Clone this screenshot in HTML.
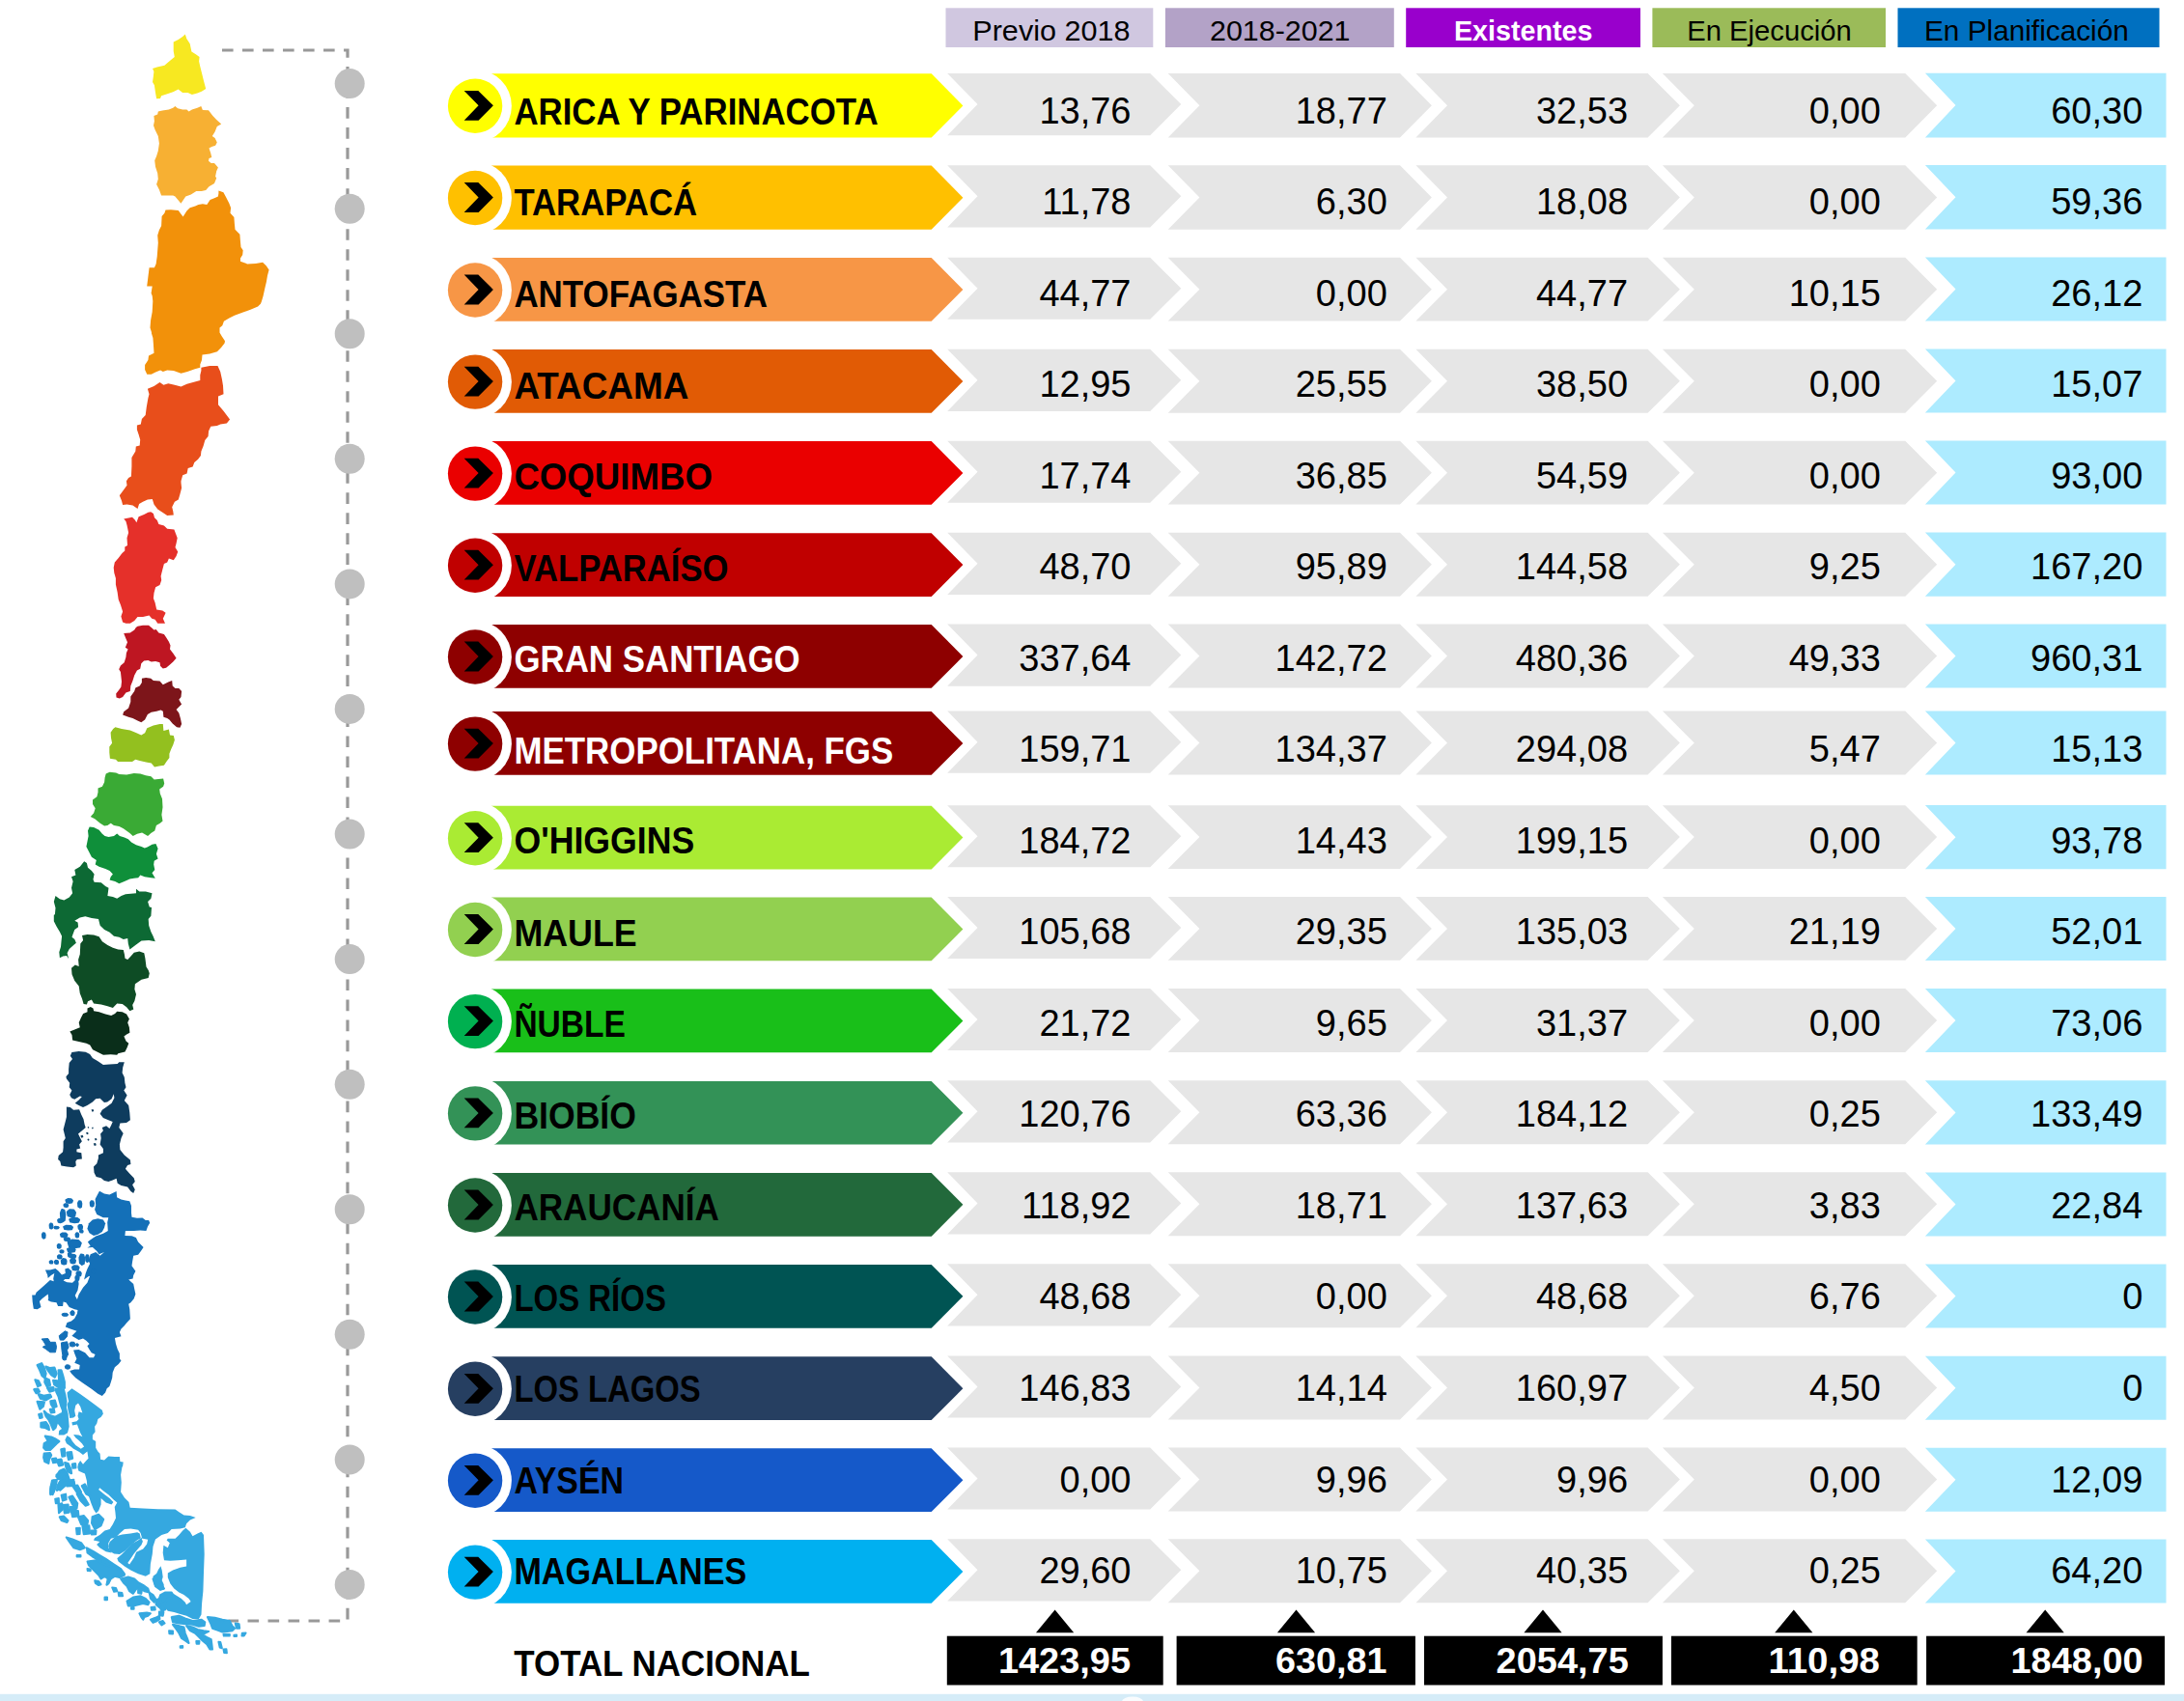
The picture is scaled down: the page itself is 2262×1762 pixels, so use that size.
<!DOCTYPE html>
<html lang="es"><head><meta charset="utf-8"><title>Total Nacional</title>
<style>html,body{margin:0;padding:0;background:#fff;}body{width:2262px;height:1762px;overflow:hidden;}svg{display:block;}text{font-family:"Liberation Sans",sans-serif;}.b{font-weight:bold;}</style></head><body>
<svg width="2262" height="1762" viewBox="0 0 2262 1762">
<rect width="2262" height="1762" fill="#fff"/>
<rect x="0" y="1754.8" width="2262" height="8" fill="#D5ECF8"/>
<ellipse cx="1173" cy="1762.5" rx="11" ry="5" fill="#fff" fill-opacity="0.85"/>
<path d="M230,52 H360 V1679 H236.5" fill="none" stroke="#999" stroke-width="3.2" stroke-dasharray="11.6 9.41"/>
<circle cx="362.2" cy="86.6" r="15.5" fill="#BFBFBF"/>
<circle cx="362.2" cy="216.2" r="15.5" fill="#BFBFBF"/>
<circle cx="362.2" cy="345.7" r="15.5" fill="#BFBFBF"/>
<circle cx="362.2" cy="475.3" r="15.5" fill="#BFBFBF"/>
<circle cx="362.2" cy="604.9" r="15.5" fill="#BFBFBF"/>
<circle cx="362.2" cy="734.4" r="15.5" fill="#BFBFBF"/>
<circle cx="362.2" cy="864.0" r="15.5" fill="#BFBFBF"/>
<circle cx="362.2" cy="993.6" r="15.5" fill="#BFBFBF"/>
<circle cx="362.2" cy="1123.2" r="15.5" fill="#BFBFBF"/>
<circle cx="362.2" cy="1252.7" r="15.5" fill="#BFBFBF"/>
<circle cx="362.2" cy="1382.3" r="15.5" fill="#BFBFBF"/>
<circle cx="362.2" cy="1511.9" r="15.5" fill="#BFBFBF"/>
<circle cx="362.2" cy="1641.4" r="15.5" fill="#BFBFBF"/>
<g id="map">
<polygon fill="#F7E821" points="191.8,35.4 193.4,40.3 196.7,45.3 198.4,53.5 202.8,56.3 206.6,59.0 206.1,63.4 207.2,68.4 209.4,77.2 211.0,83.8 213.2,92.0 208.8,94.8 204.4,96.4 198.9,98.1 194.5,95.9 189.1,95.9 184.7,92.6 179.2,95.3 172.6,97.5 167.1,99.2 166.0,101.9 162.1,102.2 161.0,95.9 159.9,88.2 158.0,84.9 158.8,79.4 159.4,73.9 158.0,71.1 162.7,69.5 170.4,67.8 175.9,62.9 180.8,59.0 179.7,53.0 179.7,43.6 184.7,40.9 189.1,38.1"/>
<polygon fill="#F7B033" points="181.4,109.9 184.1,112.3 189.1,113.4 193.4,113.4 195.6,115.6 198.9,113.4 204.4,111.8 208.3,110.1 209.9,114.0 216.0,114.3 220.4,120.0 224.2,123.9 229.2,128.6 224.8,131.0 222.6,136.5 219.8,140.9 222.6,143.1 224.8,147.5 223.1,150.8 219.3,151.9 216.5,153.6 218.2,158.5 219.3,162.9 216.5,164.0 216.0,166.8 218.7,169.0 222.0,169.0 225.9,173.4 224.2,177.2 223.1,182.7 224.2,184.4 222.0,189.9 216.5,193.2 213.2,197.0 208.8,198.1 203.3,198.1 197.8,201.4 192.3,203.6 187.4,210.8 181.4,203.6 179.2,202.5 167.1,202.5 164.9,196.5 162.1,191.0 163.8,185.5 163.2,179.4 161.0,172.8 160.2,166.2 162.1,161.8 163.8,156.3 164.9,148.6 163.8,140.9 160.5,134.3 159.0,129.9 159.9,125.5 159.4,120.0 163.2,118.4 163.8,115.6 168.2,114.5 174.8,113.4 179.2,111.8"/>
<polygon fill="#F2910A" points="226.4,197.6 231.4,199.2 234.1,204.2 237.4,210.8 239.1,215.2 238.5,220.7 242.4,225.1 242.9,231.7 243.5,237.7 248.4,242.7 249.0,250.4 249.5,255.9 251.7,259.2 251.2,264.1 249.0,267.4 249.0,270.7 256.1,273.4 264.9,272.9 272.1,271.8 275.9,275.6 278.6,279.5 277.0,285.5 275.9,292.1 274.3,298.7 272.6,306.4 271.0,311.9 269.9,314.7 267.1,317.4 259.4,320.7 251.7,323.5 242.9,326.8 237.4,329.5 231.9,332.8 230.3,337.2 227.5,339.4 227.5,344.4 229.7,348.2 233.0,353.2 232.6,355.4 229.3,359.8 224.9,364.2 217.2,366.4 209.5,367.5 209.0,373.0 207.3,377.4 207.3,380.7 201.8,382.3 194.1,385.1 187.5,386.7 179.8,384.0 173.2,383.4 168.8,385.1 166.1,383.4 161.1,385.6 156.7,387.8 152.3,387.8 150.1,382.9 150.1,377.9 153.4,373.0 154.0,368.6 159.5,365.8 158.9,356.5 158.4,349.9 156.7,344.4 157.2,344.9 155.5,339.4 156.1,331.7 157.7,322.9 158.3,311.9 157.7,306.4 156.6,303.7 157.7,296.5 152.2,296.5 153.3,287.7 154.6,277.3 159.9,277.3 161.6,273.4 162.7,265.8 163.8,251.5 163.2,243.8 164.9,238.3 167.1,233.9 167.6,224.0 170.4,220.7 171.5,217.4 177.0,217.2 184.7,217.9 189.6,224.5 193.4,218.5 196.7,215.2 202.2,213.5 205.5,211.9 209.9,211.3 214.3,211.9 217.6,206.9 222.0,205.3 225.9,203.6 226.4,200.3"/>
<polygon fill="#E84E1B" points="208.4,380.7 217.2,379.0 225.5,379.0 228.2,385.1 229.9,392.8 231.0,399.4 231.5,408.2 226.0,410.4 226.0,419.2 231.5,425.8 238.1,434.5 234.8,438.4 228.2,439.5 224.9,441.1 218.3,441.7 216.1,446.6 215.6,452.1 212.3,456.0 210.6,462.0 208.4,467.5 207.9,471.9 205.1,475.8 201.3,479.1 199.6,483.5 194.7,485.1 193.6,490.6 189.2,492.3 187.5,498.3 187.5,500.0 188.1,505.5 186.4,512.1 184.8,517.6 180.9,519.8 178.2,525.3 179.3,529.7 179.8,533.5 173.2,534.1 168.3,530.8 163.3,527.5 159.5,522.5 157.8,517.0 152.9,517.6 148.0,519.8 144.1,522.0 142.5,526.9 137.5,523.6 131.5,522.5 127.1,523.1 126.0,518.7 123.8,513.2 127.1,508.8 131.5,502.7 130.9,498.3 133.1,495.0 135.9,493.4 136.4,482.9 136.4,474.1 140.3,467.5 140.8,462.6 144.7,461.5 145.2,455.4 143.6,449.9 141.9,445.0 141.9,440.6 145.8,439.5 146.9,434.0 150.7,430.1 151.8,421.4 153.4,412.6 154.5,408.2 152.9,402.7 159.5,399.9 165.5,396.1 169.4,398.8 174.3,397.2 180.9,398.8 187.5,400.5 193.6,397.7 201.8,395.5 207.3,393.9 207.3,388.4 208.4,384.0"/>
<polygon fill="#E5302A" points="156.2,530.2 158.9,531.9 160.0,536.3 162.8,539.0 164.4,542.9 169.9,544.5 173.2,547.8 180.4,548.4 182.0,552.8 183.7,557.2 182.6,562.7 181.5,567.1 184.2,571.5 182.6,575.9 179.8,580.3 174.9,578.6 173.2,582.5 169.9,584.1 168.3,590.1 166.6,596.7 167.2,601.1 165.5,606.1 161.1,608.3 159.5,614.3 158.9,619.8 160.6,624.2 162.2,631.4 168.3,632.5 171.6,634.7 169.9,638.5 168.8,640.7 171.0,645.7 163.3,645.7 160.6,641.8 157.3,640.7 154.5,637.4 148.0,639.1 142.5,639.1 139.2,642.9 134.8,645.7 130.4,645.7 127.1,644.6 125.4,638.5 127.1,633.6 124.9,626.4 122.7,620.9 121.6,613.2 119.9,605.5 119.9,598.9 118.3,593.4 117.7,588.0 118.8,582.5 122.7,578.1 126.5,573.1 129.3,570.4 129.3,566.5 132.0,564.9 131.5,557.2 133.1,551.7 131.5,544.0 130.4,540.1 128.2,537.4 137.0,535.7 139.7,538.5 141.4,541.2 143.6,535.2 149.1,533.0 153.4,530.8"/>
<polygon fill="#BE1622" points="142.5,648.8 148.0,647.7 154.0,647.7 157.3,650.4 159.5,652.6 161.7,652.1 164.4,655.4 169.9,657.0 172.1,660.3 174.9,664.7 176.5,668.6 176.0,672.4 179.3,676.8 182.6,681.8 179.3,685.6 175.4,688.9 172.1,691.7 168.8,692.6 166.1,690.0 165.5,686.2 161.1,685.1 156.7,685.6 153.4,684.0 149.1,684.5 146.3,687.3 145.2,692.8 141.9,694.4 139.2,699.4 137.5,704.9 135.3,710.4 134.8,715.9 130.4,717.5 127.1,721.9 123.8,723.6 120.5,722.5 120.2,718.6 123.2,714.8 125.4,711.5 126.0,706.0 125.4,700.5 124.9,696.1 123.2,693.3 124.9,689.5 128.7,686.2 130.4,680.7 130.9,676.3 132.6,672.4 129.8,670.8 132.0,665.3 130.4,661.4 128.2,655.9 134.8,655.4 139.2,652.6 140.8,649.9"/>
<polygon fill="#7D151A" points="146.9,702.7 151.2,702.1 156.2,702.7 158.9,704.9 165.5,705.4 168.8,709.3 174.3,706.5 178.2,704.9 178.7,710.4 181.5,713.1 185.3,713.1 188.1,715.9 187.5,721.9 185.3,724.7 188.1,729.6 185.3,732.3 182.6,735.1 185.3,738.4 187.0,744.4 188.1,749.9 186.4,753.8 183.1,753.2 178.7,749.4 175.4,745.5 173.2,743.9 169.4,742.8 168.8,736.7 166.6,735.6 162.2,736.7 156.7,737.8 152.9,740.0 150.1,745.5 146.3,748.3 142.5,746.6 137.5,743.9 133.1,742.8 127.1,740.6 128.2,737.3 133.1,733.4 135.3,726.9 135.3,721.4 139.2,715.9 140.3,712.6 144.7,710.4 146.9,707.1"/>
<polygon fill="#93C01F" points="119.4,753.2 126.0,754.9 134.8,756.5 141.4,759.3 146.3,761.5 150.1,759.3 152.3,754.3 158.9,751.6 165.5,749.9 168.8,749.9 169.4,757.1 174.9,755.4 176.0,761.5 179.8,762.0 180.9,766.4 179.3,771.4 177.1,776.3 175.4,780.7 175.4,785.1 172.7,788.4 169.9,792.8 165.0,793.4 160.0,794.5 156.7,790.6 151.2,789.5 144.7,787.9 140.3,786.8 137.0,789.0 130.4,789.0 122.1,789.0 119.9,786.8 113.9,785.7 113.3,779.6 113.3,773.6 116.1,769.7 115.0,764.2 114.6,758.7 117.2,754.9"/>
<polygon fill="#3AAA35" points="109.7,801.5 113.6,799.7 120.1,800.4 123.4,802.1 131.1,802.6 138.8,801.0 145.4,801.5 150.9,803.2 156.4,804.3 159.7,807.6 164.1,807.0 169.1,806.5 170.2,811.4 169.1,814.7 165.2,817.5 165.8,821.9 168.0,827.4 168.5,836.2 167.4,843.9 168.5,850.5 165.8,852.7 161.9,854.9 160.3,860.4 156.4,863.1 153.1,865.9 147.1,862.6 142.1,863.7 137.7,865.9 134.4,863.1 127.8,858.2 123.4,856.0 118.0,854.9 114.7,852.7 111.4,854.9 108.1,855.4 103.7,852.7 98.2,848.3 93.8,846.1 97.1,842.2 98.7,837.3 96.0,832.9 96.0,828.5 100.4,825.2 101.5,820.8 101.5,816.4 105.9,814.7 108.1,810.3 108.6,805.4"/>
<polygon fill="#0F8F3A" points="92.7,856.5 97.1,857.1 102.6,859.8 105.9,863.7 108.6,865.9 112.5,867.0 118.0,865.9 121.2,863.4 124.0,865.9 128.9,867.5 132.8,869.2 136.1,872.5 141.0,875.2 146.5,876.9 149.8,878.5 152.6,877.4 157.5,874.7 161.4,874.1 163.6,879.1 161.9,884.5 163.6,889.5 159.7,891.7 159.2,895.5 160.3,901.0 157.5,904.3 160.8,909.8 156.4,909.3 149.8,908.2 145.4,906.5 143.2,909.3 138.8,909.8 134.4,910.4 128.9,913.1 123.4,915.3 119.1,913.1 113.6,911.5 114.7,908.2 116.9,905.4 113.6,902.1 109.2,899.9 102.6,897.7 98.7,895.5 99.8,891.1 94.9,887.8 92.1,882.3 89.4,876.9 90.5,871.4 91.6,865.9 91.0,860.4"/>
<polygon fill="#0D6934" points="87.2,892.2 89.9,893.9 91.0,898.8 94.9,902.1 97.6,905.4 96.5,910.9 97.6,913.7 104.8,914.2 109.2,918.1 112.5,919.7 111.4,928.0 116.9,929.1 121.2,930.7 125.6,928.0 130.0,926.3 135.5,925.8 141.0,925.2 141.0,920.8 144.3,923.6 150.9,923.6 157.5,925.2 156.4,930.7 153.1,934.0 154.8,939.5 157.0,940.0 156.4,948.8 153.7,952.1 154.2,958.7 156.4,965.3 158.6,969.7 160.8,975.2 154.2,974.1 146.5,974.6 141.0,978.5 134.4,983.4 132.8,977.4 132.2,971.9 127.8,973.0 123.4,970.8 118.0,969.7 113.6,965.8 108.1,963.1 103.7,958.7 102.0,952.1 94.9,951.0 88.3,949.3 82.8,950.4 77.3,953.7 80.6,955.4 81.1,960.3 77.3,963.1 75.6,967.5 74.5,970.8 77.3,973.0 78.9,976.8 76.2,979.0 71.8,982.9 69.6,987.3 71.2,993.3 69.0,990.0 65.2,990.6 61.9,992.2 61.3,986.2 63.0,980.7 63.5,975.2 64.1,969.7 61.9,965.3 58.6,959.8 55.8,954.3 55.8,947.7 56.9,947.2 57.5,940.6 55.8,934.0 57.5,928.0 61.9,931.3 66.3,932.4 71.8,929.6 75.1,925.2 74.0,919.7 75.6,913.1 74.0,908.2 78.4,906.5 77.3,901.0 82.8,897.7"/>
<polygon fill="#0E4C25" points="85.0,969.1 90.5,968.0 97.1,968.4 102.6,970.2 105.9,975.2 111.4,979.0 116.9,981.8 122.3,983.4 127.8,984.0 128.9,988.4 129.5,992.8 132.2,993.9 135.5,990.6 138.8,986.7 144.3,985.6 149.3,987.3 150.4,992.8 151.5,1001.6 153.7,1004.9 154.8,1008.2 153.7,1013.1 146.5,1014.8 143.2,1017.0 139.9,1019.2 139.4,1024.7 141.0,1030.1 139.4,1036.7 137.2,1041.1 138.3,1045.5 134.4,1047.2 131.1,1043.3 126.7,1040.0 121.2,1039.5 116.9,1043.9 111.4,1042.2 104.8,1040.6 97.1,1039.5 94.9,1035.6 91.0,1037.3 89.9,1040.6 86.6,1040.0 85.0,1034.5 82.8,1029.1 81.7,1021.4 77.3,1015.9 74.5,1009.3 74.0,1002.7 77.8,999.4 81.7,1001.0 81.1,993.9 82.8,988.4 83.3,977.4 86.1,974.1"/>
<polygon fill="#0A2E1A" points="90.5,1044.4 93.8,1043.1 96.5,1044.4 97.1,1047.2 102.6,1048.3 109.2,1050.5 115.2,1052.1 119.1,1049.9 121.2,1047.7 126.7,1048.3 131.1,1050.5 133.9,1055.4 132.2,1059.3 133.9,1064.2 134.4,1069.7 131.1,1071.4 128.4,1073.6 130.6,1078.5 133.3,1080.7 131.7,1085.1 129.5,1089.5 122.3,1091.2 121.2,1092.8 114.7,1092.3 107.0,1092.8 101.5,1090.1 96.0,1087.3 93.2,1082.4 89.4,1080.7 81.7,1079.1 75.1,1077.4 74.5,1071.9 72.3,1068.6 77.3,1066.4 82.8,1064.2 81.7,1059.3 83.9,1054.3 86.1,1049.9 90.5,1048.3"/>
<polygon fill="#0E3C5E" points="74.4,1089.9 81.6,1089.0 88.7,1089.7 93.1,1092.1 95.9,1095.9 101.4,1099.2 106.9,1103.1 113.4,1102.5 121.7,1102.0 123.3,1100.3 128.8,1100.3 127.2,1105.8 126.6,1111.3 128.8,1115.7 129.4,1121.8 130.5,1126.2 128.3,1129.5 131.6,1134.4 128.8,1139.9 133.2,1144.9 134.3,1152.6 134.9,1160.3 131.0,1163.0 124.4,1163.6 123.3,1168.0 127.7,1174.0 125.5,1178.9 123.9,1185.5 124.4,1191.0 128.8,1196.5 134.9,1201.5 135.4,1205.9 132.1,1207.0 129.9,1210.8 134.3,1215.8 138.7,1220.2 139.8,1224.0 137.1,1227.3 139.8,1232.3 138.2,1236.1 135.4,1233.9 132.1,1229.5 125.5,1227.9 121.7,1225.7 120.6,1220.7 116.7,1222.4 112.3,1224.0 108.0,1222.9 104.7,1220.2 99.7,1219.1 97.5,1214.7 97.0,1208.6 100.3,1205.3 101.9,1199.8 101.9,1196.5 106.9,1194.3 106.9,1189.9 103.6,1185.5 104.7,1178.9 104.1,1174.5 106.9,1171.2 105.8,1168.0 110.1,1166.3 113.4,1169.1 115.1,1165.8 116.7,1161.9 112.3,1160.3 106.9,1158.1 103.6,1153.7 105.8,1149.8 111.2,1146.0 115.6,1142.7 118.4,1137.2 117.8,1133.3 115.6,1138.3 111.2,1141.6 108.0,1142.1 103.6,1137.7 99.2,1138.3 95.9,1141.6 90.4,1144.9 86.0,1147.1 81.6,1144.9 77.7,1142.7 81.6,1139.4 84.9,1136.1 82.7,1135.5 77.2,1138.8 73.9,1137.2 72.2,1133.9 74.4,1129.5 71.7,1126.2 72.2,1121.8 68.9,1117.4 68.4,1115.2 71.1,1111.9 71.1,1107.5 71.7,1100.9 75.0,1097.0 72.8,1093.7"/>
<polygon fill="#0E3C5E" points="68.9,1146.5 72.8,1147.1 76.1,1149.8 82.1,1149.3 84.3,1154.8 86.5,1159.2 87.6,1164.7 88.7,1168.0 84.9,1171.2 81.0,1174.5 83.2,1178.9 84.9,1182.2 82.1,1185.5 83.2,1189.4 79.4,1190.5 79.4,1193.2 84.3,1194.3 84.9,1200.4 79.9,1200.9 78.3,1203.1 78.8,1207.5 76.1,1209.2 69.5,1208.6 63.4,1207.5 62.3,1203.1 60.1,1200.9 60.7,1197.1 65.1,1193.2 65.6,1188.8 65.6,1182.2 67.8,1178.9 66.7,1174.5 65.6,1170.1 66.7,1165.8 67.8,1161.4 68.9,1157.0 68.9,1151.5"/>
<polygon fill="#0E3C5E" points="94.5,1149.6 96.5,1149.0 97.2,1150.9 95.5,1151.7"/>
<polygon fill="#0E3C5E" points="89.0,1173.2 91.0,1172.7 91.7,1174.5 90.0,1175.3"/>
<polygon fill="#0E3C5E" points="83.3,1176.4 85.6,1175.8 86.4,1177.9 84.4,1178.8"/>
<polygon fill="#0E3C5E" points="90.4,1179.9 92.0,1179.5 92.6,1181.0 91.1,1181.7"/>
<polygon fill="#0E3C5E" points="97.8,1179.5 99.8,1178.9 100.5,1180.8 98.8,1181.6"/>
<polygon fill="#0E3C5E" points="96.7,1184.6 99.0,1184.0 99.8,1186.2 97.8,1187.1"/>
<polygon fill="#0E3C5E" points="90.6,1167.4 91.9,1167.1 92.3,1168.3 91.2,1168.8"/>
<polygon fill="#0E3C5E" points="95.0,1168.0 96.3,1167.6 96.7,1168.9 95.6,1169.4"/>
<polygon fill="#1470B8" points="103.0,1233.7 108.0,1236.5 113.4,1237.6 120.6,1234.1 121.1,1240.3 125.5,1242.5 129.9,1243.6 134.3,1244.2 136.0,1249.1 136.0,1256.3 136.5,1260.7 142.0,1261.8 147.5,1261.6 150.8,1264.0 154.1,1264.0 155.2,1266.7 153.0,1270.6 151.4,1275.0 145.3,1274.4 138.7,1275.0 129.9,1275.0 129.4,1279.9 136.5,1280.2 140.9,1282.1 143.1,1286.5 148.6,1292.0 145.9,1295.9 143.1,1299.7 138.2,1300.8 137.1,1306.9 136.5,1311.2 140.4,1316.7 138.2,1321.1 137.6,1324.4 133.2,1325.5 138.2,1329.9 139.3,1335.4 140.4,1340.4 138.7,1345.3 135.4,1349.2 133.2,1350.8 134.3,1356.3 134.9,1366.2 131.0,1370.6 128.8,1373.3 125.5,1376.6 123.9,1379.9 125.5,1384.3 118.9,1385.9 120.0,1392.0 121.7,1397.5 123.9,1401.9 123.9,1407.4 125.5,1409.6 122.8,1412.9 118.9,1416.2 116.7,1421.7 116.2,1427.2 114.5,1432.7 113.4,1436.0 110.7,1438.2 109.1,1442.6 105.8,1445.9 101.4,1443.7 94.8,1438.7 86.0,1432.7 78.3,1427.2 73.9,1422.8 72.2,1420.0 77.2,1418.4 82.1,1418.4 82.7,1414.0 77.2,1411.8 79.4,1407.4 77.2,1401.9 76.1,1398.6 81.6,1398.0 88.2,1401.3 92.6,1406.3 97.0,1406.3 98.6,1403.0 94.8,1401.3 92.6,1398.0 90.4,1394.2 92.6,1392.0 89.3,1388.7 86.0,1386.5 81.6,1388.1 74.4,1383.7 79.4,1378.8 72.8,1376.6 67.8,1374.4 69.5,1370.1 73.9,1368.4 77.2,1365.7 79.9,1360.7 80.5,1356.9 77.2,1356.3 71.7,1354.1 68.4,1349.2 65.6,1348.6 65.1,1353.0 60.1,1353.0 58.5,1349.2 53.0,1348.6 49.7,1347.0 50.2,1344.8 49.7,1340.4 43.6,1345.3 40.9,1348.1 42.5,1354.1 38.7,1356.3 34.8,1355.8 33.7,1348.6 33.2,1341.5 36.5,1341.5 37.6,1338.7 45.3,1332.1 51.9,1326.1 55.7,1327.2 55.2,1324.4 56.3,1318.9 53.0,1321.1 49.7,1323.9 49.1,1320.6 46.9,1315.6 51.9,1315.6 57.4,1314.0 60.7,1316.7 64.0,1320.6 67.8,1318.9 67.3,1314.5 70.6,1313.4 74.4,1316.7 73.9,1321.1 71.7,1325.0 67.3,1325.0 65.6,1326.6 69.5,1328.3 75.0,1328.8 79.4,1324.4 81.0,1325.5 81.6,1329.9 80.5,1336.5 77.7,1342.0 79.9,1345.9 81.6,1340.9 86.0,1333.8 90.4,1328.8 93.1,1321.7 91.5,1322.2 87.1,1325.5 88.7,1318.9 90.4,1314.5 93.1,1309.1 91.5,1305.8 93.7,1299.2 99.2,1297.0 103.6,1300.8 108.0,1297.0 102.5,1299.2 100.3,1295.9 95.9,1292.0 90.4,1292.6 93.7,1290.4 90.9,1286.5 92.6,1284.9 99.2,1280.5 106.9,1277.7 111.8,1275.0 111.2,1266.2 112.3,1261.2 106.9,1261.2 100.3,1257.9 98.1,1253.0 99.2,1248.6 98.6,1242.0"/>
<polygon fill="#1470B8" points="95.9,1263.4 101.4,1262.3 106.9,1263.4 109.1,1267.3 108.0,1271.7 105.8,1276.1 101.4,1278.8 97.0,1279.9 92.6,1277.2 90.4,1272.8 92.0,1267.3"/>
<polygon fill="#1470B8" stroke="#1470B8" stroke-width="2.0" stroke-linejoin="round" points="68.4,1243.2 70.4,1242.0 73.6,1242.2 75.0,1243.6 74.3,1245.5 71.7,1245.9 69.0,1245.3"/>
<polygon fill="#1470B8" stroke="#1470B8" stroke-width="2.0" stroke-linejoin="round" points="81.0,1246.2 82.0,1244.2 83.7,1244.5 84.3,1246.8 84.0,1250.1 82.7,1250.8 81.3,1249.8"/>
<polygon fill="#1470B8" stroke="#1470B8" stroke-width="2.0" stroke-linejoin="round" points="93.7,1245.8 94.6,1244.2 96.3,1244.5 97.0,1246.4 96.6,1249.1 95.3,1249.7 94.0,1248.9"/>
<polygon fill="#1470B8" stroke="#1470B8" stroke-width="2.0" stroke-linejoin="round" points="66.4,1248.0 67.6,1247.2 69.5,1247.3 70.3,1248.3 69.9,1249.7 68.4,1250.0 66.8,1249.5"/>
<polygon fill="#1470B8" stroke="#1470B8" stroke-width="2.0" stroke-linejoin="round" points="69.7,1255.4 72.2,1253.3 76.3,1253.6 78.0,1256.1 77.2,1259.7 73.9,1260.4 70.6,1259.3"/>
<polygon fill="#1470B8" stroke="#1470B8" stroke-width="2.0" stroke-linejoin="round" points="62.9,1256.6 64.2,1253.0 66.4,1253.6 67.3,1257.8 66.8,1263.9 65.1,1265.1 63.3,1263.3"/>
<polygon fill="#1470B8" stroke="#1470B8" stroke-width="2.0" stroke-linejoin="round" points="72.2,1263.1 75.2,1261.8 80.1,1262.0 82.1,1263.5 81.1,1265.7 77.2,1266.2 73.2,1265.5"/>
<polygon fill="#1470B8" stroke="#1470B8" stroke-width="2.0" stroke-linejoin="round" points="60.1,1263.9 61.4,1262.9 63.6,1263.0 64.5,1264.2 64.1,1265.8 62.3,1266.2 60.6,1265.7"/>
<polygon fill="#1470B8" stroke="#1470B8" stroke-width="2.0" stroke-linejoin="round" points="51.6,1269.0 52.4,1267.5 53.8,1267.8 54.4,1269.5 54.1,1272.0 53.0,1272.5 51.9,1271.8"/>
<polygon fill="#1470B8" stroke="#1470B8" stroke-width="2.0" stroke-linejoin="round" points="56.3,1271.3 57.6,1270.8 59.8,1270.9 60.7,1271.5 60.2,1272.3 58.5,1272.5 56.7,1272.2"/>
<polygon fill="#1470B8" stroke="#1470B8" stroke-width="2.0" stroke-linejoin="round" points="66.2,1270.9 68.8,1269.7 73.2,1269.9 75.0,1271.3 74.1,1273.2 70.6,1273.6 67.1,1273.0"/>
<polygon fill="#1470B8" stroke="#1470B8" stroke-width="2.0" stroke-linejoin="round" points="81.3,1270.2 82.4,1268.9 84.4,1269.1 85.1,1270.7 84.8,1272.9 83.2,1273.3 81.7,1272.7"/>
<polygon fill="#1470B8" stroke="#1470B8" stroke-width="2.0" stroke-linejoin="round" points="43.9,1278.8 44.7,1277.2 46.1,1277.4 46.7,1279.4 46.4,1282.1 45.3,1282.7 44.2,1281.8"/>
<polygon fill="#1470B8" stroke="#1470B8" stroke-width="2.0" stroke-linejoin="round" points="62.9,1278.6 64.9,1277.4 68.2,1277.6 69.5,1279.0 68.8,1280.9 66.2,1281.3 63.5,1280.7"/>
<polygon fill="#1470B8" stroke="#1470B8" stroke-width="2.0" stroke-linejoin="round" points="78.5,1278.5 79.4,1277.2 80.7,1277.4 81.3,1278.9 81.0,1281.1 79.9,1281.6 78.8,1280.9"/>
<polygon fill="#1470B8" stroke="#1470B8" stroke-width="2.0" stroke-linejoin="round" points="82.9,1275.1 83.8,1274.4 85.1,1274.5 85.7,1275.3 85.4,1276.4 84.3,1276.6 83.2,1276.3"/>
<polygon fill="#1470B8" stroke="#1470B8" stroke-width="2.0" stroke-linejoin="round" points="66.7,1283.2 68.4,1282.4 71.1,1282.5 72.2,1283.5 71.7,1284.9 69.5,1285.1 67.3,1284.7"/>
<polygon fill="#1470B8" stroke="#1470B8" stroke-width="2.0" stroke-linejoin="round" points="70.6,1286.8 74.5,1284.5 81.1,1284.9 83.8,1287.6 82.4,1291.5 77.2,1292.2 71.9,1291.1"/>
<polygon fill="#1470B8" stroke="#1470B8" stroke-width="2.0" stroke-linejoin="round" points="59.7,1290.1 60.6,1289.0 62.2,1289.2 62.8,1290.5 62.5,1292.4 61.2,1292.8 60.0,1292.3"/>
<polygon fill="#1470B8" stroke="#1470B8" stroke-width="2.0" stroke-linejoin="round" points="70.0,1294.0 72.3,1292.8 76.2,1293.0 77.7,1294.4 76.9,1296.3 73.9,1296.7 70.8,1296.1"/>
<polygon fill="#1470B8" stroke="#1470B8" stroke-width="2.0" stroke-linejoin="round" points="62.3,1296.0 63.3,1295.3 65.0,1295.4 65.6,1296.2 65.3,1297.3 64.0,1297.5 62.7,1297.2"/>
<polygon fill="#1470B8" stroke="#1470B8" stroke-width="2.0" stroke-linejoin="round" points="82.4,1302.6 83.9,1299.4 86.3,1300.0 87.3,1303.6 86.8,1308.8 84.9,1309.9 82.9,1308.3"/>
<polygon fill="#1470B8" stroke="#1470B8" stroke-width="2.0" stroke-linejoin="round" points="59.9,1301.2 61.0,1300.3 62.9,1300.4 63.7,1301.6 63.3,1303.2 61.8,1303.6 60.2,1303.1"/>
<polygon fill="#1470B8" stroke="#1470B8" stroke-width="2.0" stroke-linejoin="round" points="63.7,1305.8 65.2,1304.1 67.7,1304.4 68.6,1306.3 68.2,1309.1 66.2,1309.6 64.2,1308.8"/>
<polygon fill="#1470B8" stroke="#1470B8" stroke-width="2.0" stroke-linejoin="round" points="72.8,1300.7 74.4,1299.7 77.2,1299.9 78.3,1301.0 77.7,1302.7 75.5,1303.0 73.3,1302.5"/>
<polygon fill="#1470B8" stroke="#1470B8" stroke-width="2.0" stroke-linejoin="round" points="73.0,1305.4 74.5,1304.1 77.0,1304.3 78.0,1305.9 77.5,1308.1 75.5,1308.5 73.5,1307.8"/>
<polygon fill="#1470B8" stroke="#1470B8" stroke-width="2.0" stroke-linejoin="round" points="56.8,1306.7 57.8,1305.8 59.5,1305.9 60.1,1307.1 59.8,1308.7 58.5,1309.1 57.2,1308.6"/>
<polygon fill="#1470B8" stroke="#1470B8" stroke-width="2.0" stroke-linejoin="round" points="51.6,1306.9 52.4,1306.2 53.8,1306.3 54.4,1307.2 54.1,1308.4 53.0,1308.6 51.9,1308.2"/>
<polygon fill="#1470B8" stroke="#1470B8" stroke-width="2.0" stroke-linejoin="round" points="75.0,1312.6 76.9,1311.2 80.2,1311.5 81.6,1313.0 80.9,1315.2 78.3,1315.6 75.6,1315.0"/>
<polygon fill="#1470B8" stroke="#1470B8" stroke-width="2.0" stroke-linejoin="round" points="79.4,1318.6 80.7,1317.3 82.9,1317.5 83.8,1319.1 83.3,1321.3 81.6,1321.7 79.8,1321.0"/>
<polygon fill="#1470B8" stroke="#1470B8" stroke-width="2.0" stroke-linejoin="round" points="70.8,1298.8 71.7,1297.5 73.0,1297.7 73.6,1299.3 73.3,1301.5 72.2,1301.9 71.1,1301.2"/>
<polygon fill="#1470B8" stroke="#1470B8" stroke-width="2.0" stroke-linejoin="round" points="78.3,1323.0 79.3,1321.7 80.9,1321.9 81.6,1323.5 81.2,1325.7 79.9,1326.1 78.6,1325.4"/>
<polygon fill="#1470B8" stroke="#1470B8" stroke-width="2.0" stroke-linejoin="round" points="95.3,1316.1 96.3,1315.1 97.9,1315.3 98.6,1316.4 98.3,1318.1 97.0,1318.4 95.6,1317.9"/>
<polygon fill="#1470B8" stroke="#1470B8" stroke-width="2.0" stroke-linejoin="round" points="89.0,1302.2 89.8,1300.3 91.2,1300.6 91.7,1302.9 91.5,1306.2 90.4,1306.9 89.3,1305.9"/>
<polygon fill="#1470B8" stroke="#1470B8" stroke-width="1.0" stroke-linejoin="round" points="43.1,1387.0 49.7,1386.5 51.9,1390.3 57.4,1390.3 58.5,1395.3 57.4,1400.8 51.9,1400.8 47.5,1397.5 44.2,1395.3 47.5,1393.6 45.3,1389.8"/>
<polygon fill="#1470B8" stroke="#1470B8" stroke-width="1.0" stroke-linejoin="round" points="61.2,1383.7 67.3,1378.8 70.0,1379.9 69.5,1384.3 66.2,1388.1 62.3,1388.1"/>
<polygon fill="#1470B8" stroke="#1470B8" stroke-width="1.0" stroke-linejoin="round" points="63.4,1390.9 69.5,1389.8 71.1,1395.3 69.5,1398.6 70.6,1403.0 68.4,1406.8 65.1,1405.2 64.0,1398.6"/>
<polygon fill="#1470B8" stroke="#1470B8" stroke-width="1.0" stroke-linejoin="round" points="67.3,1415.1 68.9,1413.8 71.7,1414.0 72.8,1415.5 72.2,1417.7 70.0,1418.2 67.8,1417.5"/>
<polygon fill="#1470B8" stroke="#1470B8" stroke-width="1.0" stroke-linejoin="round" points="71.9,1391.5 73.8,1390.1 76.8,1390.3 78.0,1392.0 77.4,1394.5 75.0,1395.0 72.6,1394.3"/>
<polygon fill="#1470B8" stroke="#1470B8" stroke-width="1.0" stroke-linejoin="round" points="64.5,1405.2 65.8,1403.5 68.0,1403.8 68.9,1405.7 68.5,1408.5 66.7,1409.0 65.0,1408.2"/>
<polygon fill="#1470B8" stroke="#1470B8" stroke-width="1.0" stroke-linejoin="round" points="78.5,1392.5 79.4,1391.7 80.7,1391.9 81.3,1392.8 81.0,1394.2 79.9,1394.5 78.8,1394.0"/>
<polygon fill="#1470B8" stroke="#1470B8" stroke-width="1.0" stroke-linejoin="round" points="64.0,1361.2 66.0,1360.3 69.3,1360.4 70.6,1361.5 69.9,1363.1 67.3,1363.4 64.6,1362.9"/>
<polygon fill="#1470B8" stroke="#1470B8" stroke-width="1.0" stroke-linejoin="round" points="72.8,1359.2 74.1,1357.7 76.3,1357.9 77.2,1359.7 76.7,1362.2 75.0,1362.6 73.2,1361.9"/>
<polygon fill="#35A8E0" points="74.4,1438.2 81.6,1443.1 90.4,1449.2 99.2,1455.8 105.8,1460.7 106.9,1464.5 104.7,1467.8 101.4,1470.0 100.3,1474.4 98.1,1477.7 98.6,1483.2 95.9,1486.5 95.9,1490.9 99.2,1493.1 99.2,1499.7 101.4,1503.6 103.6,1505.8 104.1,1511.8 108.0,1512.4 112.3,1508.5 118.9,1509.1 123.9,1509.1 124.4,1514.0 127.7,1514.6 127.2,1518.4 126.4,1520.0 125.1,1527.7 125.8,1535.4 125.1,1545.6 129.0,1551.4 133.5,1555.9 134.7,1561.7 148.2,1562.6 163.6,1563.3 181.5,1563.6 185.4,1566.2 190.5,1569.4 196.9,1570.0 202.7,1571.9 196.9,1574.5 193.1,1578.3 191.8,1582.2 186.7,1583.5 177.7,1584.1 173.8,1587.9 167.4,1589.9 161.0,1594.4 158.5,1602.1 157.8,1609.7 155.9,1620.0 155.3,1630.3 150.8,1632.8 143.1,1630.3 135.4,1626.4 129.0,1622.6 122.6,1617.4 121.3,1614.2 126.4,1609.7 131.5,1604.6 136.0,1599.5 143.1,1595.6 146.9,1592.4 145.6,1587.9 143.1,1584.7 135.4,1583.5 129.0,1584.1 123.8,1588.6 120.0,1592.4 114.9,1593.7 112.3,1598.2 112.3,1603.3 115.5,1608.5 109.7,1607.2 103.3,1603.3 100.1,1600.1 103.3,1596.9 96.9,1595.6 98.2,1593.1 103.3,1589.9 108.5,1585.4 113.6,1584.1 116.8,1579.0 120.0,1572.6 119.4,1566.2 118.7,1561.0 121.3,1556.5 117.4,1553.3 112.3,1548.2 107.2,1544.4 103.3,1541.2 102.1,1543.1 108.5,1548.2 113.6,1552.1 117.4,1555.9 115.5,1558.5 109.7,1556.5 104.6,1552.1 104.6,1558.5 102.1,1564.9 99.5,1567.4 96.9,1563.6 94.4,1557.2 91.8,1549.5 90.5,1543.1 89.9,1534.1 87.9,1526.4 81.5,1523.8 80.3,1520.0 81.0,1516.2 83.2,1512.9 86.0,1516.8 89.3,1512.9 91.5,1510.7 90.4,1503.6 86.0,1506.9 82.1,1504.1 79.4,1502.5 76.1,1500.8 72.8,1498.1 68.9,1495.3 67.3,1491.5 69.5,1487.1 72.8,1489.3 75.0,1493.1 78.3,1497.0 81.6,1499.2 83.8,1500.8 87.1,1498.6 84.9,1495.3 81.6,1492.0 78.3,1489.3 76.1,1486.0 81.6,1486.5 85.4,1488.2 83.2,1484.3 81.6,1479.9 79.9,1475.5 75.0,1476.6 74.4,1473.3 79.4,1472.2 81.6,1470.0 80.5,1466.7 81.6,1462.3 85.4,1463.4 83.2,1456.9 81.0,1453.6 78.3,1455.8 77.2,1461.2 78.3,1466.7 76.1,1468.4 72.2,1468.9 71.7,1465.6 70.6,1461.2 69.5,1454.7 71.1,1451.4 70.0,1447.0 69.5,1442.6"/>
<polygon fill="#35A8E0" points="192.4,1582.8 196.9,1586.7 199.5,1591.2 204.6,1588.6 208.5,1586.7 211.0,1589.9 211.7,1609.7 211.0,1629.0 210.4,1648.2 209.1,1661.0 208.5,1672.6 205.9,1677.1 199.5,1677.1 193.1,1673.8 186.7,1671.9 180.3,1670.0 173.8,1668.7 170.6,1664.9 170.0,1658.5 173.8,1654.6 177.7,1649.5 181.5,1652.1 187.9,1655.9 191.8,1659.7 193.1,1662.3 197.6,1659.1 195.6,1655.9 190.5,1652.1 185.4,1649.5 180.3,1645.6 176.4,1640.5 173.8,1634.1 173.8,1629.6 179.0,1626.4 186.7,1623.8 193.1,1622.6 193.1,1615.5 184.1,1616.2 176.4,1616.8 170.0,1616.2 168.7,1608.5 169.4,1600.8 173.8,1603.3 175.8,1598.2 172.6,1595.6 173.8,1593.7 181.5,1593.7 185.4,1589.9 189.2,1585.4"/>
<polygon fill="#35A8E0" points="166.5,1622.2 167.7,1626.4 168.7,1633.5 167.7,1637.1 169.7,1641.3 169.7,1646.9 164.9,1645.5 159.9,1642.1 158.5,1637.1 158.5,1632.8 162.1,1630.0 164.1,1625.8"/>
<polygon fill="#35A8E0" points="120.3,1591.2 126.7,1589.4 135.2,1588.5 142.2,1587.3 144.7,1588.5 145.8,1593.3 141.5,1595.8 135.2,1601.1 130.2,1606.0 123.9,1609.9 118.2,1609.5 113.6,1606.7 112.2,1601.8 113.6,1597.2 117.9,1593.3"/>
<polygon fill="#FFFFFF" points="146.5,1593.6 153.2,1594.7 152.1,1599.6 148.2,1604.6 141.2,1607.8 138.7,1613.8 134.1,1620.5 132.3,1619.0 135.9,1613.8 138.7,1609.5 142.2,1605.3 146.5,1600.3 147.9,1596.8"/>
<polygon fill="#35A8E0" points="56.3,1437.6 66.7,1438.2 68.4,1444.8 69.5,1451.4 68.9,1458.0 70.6,1464.5 71.1,1471.1 71.7,1477.7 70.0,1484.3 66.2,1486.5 60.7,1486.5 61.2,1482.1 64.0,1479.9 61.8,1477.2 59.6,1474.4 61.2,1470.0 63.4,1465.6 64.0,1461.2 62.3,1456.9 60.7,1451.4 59.6,1447.0 57.4,1442.6"/>
<polygon fill="#35A8E0" stroke="#35A8E0" stroke-width="2.4" stroke-linejoin="round" points="38.7,1414.0 43.1,1412.3 45.8,1417.3 47.5,1422.8 46.4,1427.2 43.6,1425.0 41.4,1419.5"/>
<polygon fill="#35A8E0" stroke="#35A8E0" stroke-width="2.4" stroke-linejoin="round" points="47.5,1415.6 51.9,1417.3 56.3,1416.7 58.5,1422.8 56.8,1426.6 53.0,1423.9 49.7,1419.5"/>
<polygon fill="#35A8E0" stroke="#35A8E0" stroke-width="2.4" stroke-linejoin="round" points="60.7,1419.5 63.4,1419.5 65.1,1425.0 66.7,1431.6 66.7,1437.6 62.9,1436.0 61.2,1429.4"/>
<polygon fill="#35A8E0" stroke="#35A8E0" stroke-width="2.4" stroke-linejoin="round" points="55.2,1429.9 59.6,1430.5 64.0,1433.8 66.7,1437.6 60.7,1437.1 56.3,1434.3"/>
<polygon fill="#35A8E0" stroke="#35A8E0" stroke-width="2.4" stroke-linejoin="round" points="36.5,1429.4 39.8,1430.5 42.0,1434.9 39.2,1436.0"/>
<polygon fill="#35A8E0" stroke="#35A8E0" stroke-width="2.4" stroke-linejoin="round" points="46.9,1427.7 50.8,1429.4 51.9,1434.9 48.6,1436.0 46.4,1431.6"/>
<polygon fill="#35A8E0" stroke="#35A8E0" stroke-width="2.4" stroke-linejoin="round" points="35.4,1439.3 39.2,1438.7 40.9,1441.5 37.6,1443.1"/>
<polygon fill="#35A8E0" stroke="#35A8E0" stroke-width="2.4" stroke-linejoin="round" points="49.1,1437.6 55.2,1437.1 55.7,1440.4 51.3,1441.5"/>
<polygon fill="#35A8E0" stroke="#35A8E0" stroke-width="2.4" stroke-linejoin="round" points="39.8,1444.2 45.3,1445.9 51.9,1444.8 53.0,1447.0 47.5,1450.3 42.0,1448.6"/>
<polygon fill="#35A8E0" stroke="#35A8E0" stroke-width="2.4" stroke-linejoin="round" points="38.7,1451.9 45.8,1452.5 44.7,1456.9 41.4,1459.6"/>
<polygon fill="#35A8E0" stroke="#35A8E0" stroke-width="2.4" stroke-linejoin="round" points="52.4,1451.4 56.8,1450.8 58.5,1456.9 55.2,1458.0 53.0,1454.7"/>
<polygon fill="#35A8E0" stroke="#35A8E0" stroke-width="2.4" stroke-linejoin="round" points="45.8,1461.8 48.6,1464.5 53.0,1466.7 57.4,1467.8 63.4,1464.5 61.8,1468.9 59.0,1473.3 57.4,1478.8 55.2,1481.0 53.0,1475.5 50.8,1471.1 47.5,1466.7"/>
<polygon fill="#35A8E0" stroke="#35A8E0" stroke-width="2.4" stroke-linejoin="round" points="51.9,1459.9 55.7,1459.6 56.3,1462.9 53.0,1463.4"/>
<polygon fill="#35A8E0" stroke="#35A8E0" stroke-width="2.4" stroke-linejoin="round" points="40.3,1465.1 43.1,1464.5 43.6,1468.4 41.4,1468.9"/>
<polygon fill="#35A8E0" stroke="#35A8E0" stroke-width="2.4" stroke-linejoin="round" points="42.5,1473.9 47.5,1473.3 50.2,1477.2 50.8,1481.0 46.4,1478.8 42.5,1478.3"/>
<polygon fill="#35A8E0" stroke="#35A8E0" stroke-width="2.4" stroke-linejoin="round" points="46.9,1487.6 53.0,1488.7 57.9,1490.9 61.2,1493.1 58.5,1495.3 55.2,1498.6 51.9,1501.9 47.5,1501.9 45.3,1499.7 45.8,1495.3 49.7,1493.1 48.6,1490.4"/>
<polygon fill="#35A8E0" stroke="#35A8E0" stroke-width="2.4" stroke-linejoin="round" points="45.8,1505.8 51.9,1505.2 53.0,1507.4 50.8,1511.8 50.2,1515.7 46.4,1514.0 45.3,1509.6"/>
<polygon fill="#35A8E0" stroke="#35A8E0" stroke-width="2.4" stroke-linejoin="round" points="54.1,1511.3 57.9,1510.7 58.5,1514.6 55.2,1515.1"/>
<polygon fill="#35A8E0" stroke="#35A8E0" stroke-width="2.4" stroke-linejoin="round" points="59.0,1512.4 63.4,1511.8 65.1,1517.3 61.2,1518.4"/>
<polygon fill="#35A8E0" stroke="#35A8E0" stroke-width="2.4" stroke-linejoin="round" points="63.4,1501.4 66.7,1500.8 67.3,1508.0 64.5,1508.5"/>
<polygon fill="#35A8E0" stroke="#35A8E0" stroke-width="2.4" stroke-linejoin="round" points="69.5,1504.7 73.9,1504.1 75.0,1510.7 71.1,1511.8"/>
<polygon fill="#35A8E0" stroke="#35A8E0" stroke-width="2.4" stroke-linejoin="round" points="67.3,1515.1 70.6,1516.2 73.3,1521.7 73.9,1526.1 70.0,1523.9 68.4,1519.5"/>
<polygon fill="#35A8E0" stroke="#35A8E0" stroke-width="2.4" stroke-linejoin="round" points="61.8,1523.9 66.2,1521.7 69.5,1526.1 71.7,1532.7 67.3,1531.6 64.0,1528.3 58.5,1529.4"/>
<polygon fill="#35A8E0" stroke="#35A8E0" stroke-width="2.4" stroke-linejoin="round" points="75.0,1516.8 78.0,1516.2 78.3,1520.4 75.5,1520.6"/>
<polygon fill="#35A8E0" stroke="#35A8E0" stroke-width="2.4" stroke-linejoin="round" points="54.1,1533.8 58.5,1533.3 57.4,1539.3 55.2,1545.9 52.4,1548.1 52.4,1542.6"/>
<polygon fill="#35A8E0" stroke="#35A8E0" stroke-width="2.4" stroke-linejoin="round" points="64.0,1531.6 68.9,1531.1 67.3,1536.0 62.9,1541.5 59.0,1543.7 60.1,1538.2"/>
<polygon fill="#35A8E0" stroke="#35A8E0" stroke-width="2.4" stroke-linejoin="round" points="68.4,1535.5 76.6,1534.9 77.2,1538.8 69.5,1539.3"/>
<polygon fill="#35A8E0" stroke="#35A8E0" stroke-width="2.0" stroke-linejoin="round" points="55.3,1533.5 58.5,1534.1 57.2,1541.8 54.6,1548.2 52.1,1546.9 52.7,1539.2"/>
<polygon fill="#35A8E0" stroke="#35A8E0" stroke-width="2.0" stroke-linejoin="round" points="58.5,1527.7 63.6,1523.8 68.7,1525.8 64.9,1531.5 59.7,1532.2"/>
<polygon fill="#35A8E0" stroke="#35A8E0" stroke-width="2.0" stroke-linejoin="round" points="59.1,1540.5 64.9,1534.1 70.0,1532.2 68.7,1537.9 62.3,1543.7"/>
<polygon fill="#35A8E0" stroke="#35A8E0" stroke-width="2.0" stroke-linejoin="round" points="57.2,1552.7 60.8,1552.1 61.0,1556.9 57.8,1557.2"/>
<polygon fill="#35A8E0" stroke="#35A8E0" stroke-width="2.0" stroke-linejoin="round" points="60.4,1558.5 64.2,1557.2 64.9,1563.6 61.0,1567.4"/>
<polygon fill="#35A8E0" stroke="#35A8E0" stroke-width="2.0" stroke-linejoin="round" points="65.5,1559.1 70.6,1558.5 71.3,1566.8 66.8,1567.4"/>
<polygon fill="#35A8E0" stroke="#35A8E0" stroke-width="2.0" stroke-linejoin="round" points="70.0,1533.5 76.4,1532.8 76.2,1537.7 70.6,1537.9"/>
<polygon fill="#35A8E0" stroke="#35A8E0" stroke-width="2.0" stroke-linejoin="round" points="71.3,1550.8 75.1,1549.5 80.3,1557.2 79.6,1562.3 75.1,1558.5"/>
<polygon fill="#35A8E0" stroke="#35A8E0" stroke-width="2.0" stroke-linejoin="round" points="79.6,1547.6 82.8,1545.0 87.9,1552.1 91.8,1558.5 88.6,1559.7 83.5,1554.6"/>
<polygon fill="#35A8E0" stroke="#35A8E0" stroke-width="2.0" stroke-linejoin="round" points="84.7,1539.2 87.9,1537.3 91.8,1544.4 93.1,1549.5 89.2,1547.6"/>
<polygon fill="#35A8E0" stroke="#35A8E0" stroke-width="2.0" stroke-linejoin="round" points="73.8,1565.5 80.9,1564.9 81.5,1570.6 75.1,1571.3"/>
<polygon fill="#35A8E0" stroke="#35A8E0" stroke-width="2.0" stroke-linejoin="round" points="80.9,1571.3 86.7,1570.0 91.2,1575.1 89.9,1581.5 84.1,1579.0"/>
<polygon fill="#35A8E0" stroke="#35A8E0" stroke-width="2.0" stroke-linejoin="round" points="95.6,1571.3 102.1,1568.7 107.2,1573.8 104.6,1580.3 98.2,1584.1 95.0,1577.7"/>
<polygon fill="#35A8E0" stroke="#35A8E0" stroke-width="2.0" stroke-linejoin="round" points="85.4,1580.9 92.4,1580.3 93.1,1588.6 86.7,1589.2"/>
<polygon fill="#35A8E0" stroke="#35A8E0" stroke-width="2.0" stroke-linejoin="round" points="79.0,1583.1 82.8,1582.8 82.6,1589.0 79.6,1589.2"/>
<polygon fill="#35A8E0" stroke="#35A8E0" stroke-width="2.0" stroke-linejoin="round" points="94.4,1585.6 99.5,1585.4 99.2,1589.2 95.0,1589.5"/>
<polygon fill="#35A8E0" stroke="#35A8E0" stroke-width="2.0" stroke-linejoin="round" points="61.7,1571.3 66.2,1570.6 70.6,1575.1 69.4,1577.1 63.6,1575.1"/>
<polygon fill="#35A8E0" stroke="#35A8E0" stroke-width="2.0" stroke-linejoin="round" points="72.6,1561.0 78.3,1560.8 79.0,1565.9 73.2,1566.2"/>
<polygon fill="#35A8E0" stroke="#35A8E0" stroke-width="2.0" stroke-linejoin="round" points="63.6,1548.8 68.1,1547.6 68.7,1553.3 64.9,1554.6"/>
<polygon fill="#35A8E0" stroke="#35A8E0" stroke-width="2.0" stroke-linejoin="round" points="75.1,1539.2 80.3,1538.6 84.1,1545.6 80.3,1546.9"/>
<polygon fill="#35A8E0" stroke="#35A8E0" stroke-width="2.0" stroke-linejoin="round" points="68.7,1592.4 75.1,1594.4 84.1,1598.2 87.9,1603.3 82.8,1605.3 76.4,1603.3 72.6,1598.2"/>
<polygon fill="#35A8E0" stroke="#35A8E0" stroke-width="2.0" stroke-linejoin="round" points="89.9,1603.3 96.9,1607.2 103.3,1611.0 109.7,1614.9 117.4,1620.0 125.1,1625.1 129.0,1630.3 122.6,1629.0 116.2,1623.8 109.7,1620.6 102.1,1616.2 95.6,1612.3 90.5,1608.5"/>
<polygon fill="#35A8E0" stroke="#35A8E0" stroke-width="2.0" stroke-linejoin="round" points="90.5,1617.4 99.5,1616.2 109.7,1621.3 117.4,1623.8 126.4,1627.7 129.0,1631.5 123.8,1634.1 118.7,1632.8 114.9,1635.4 112.3,1640.5 110.4,1641.8 111.7,1635.4 108.5,1632.8 104.6,1635.4 102.1,1631.5 96.9,1626.4 91.8,1621.3"/>
<polygon fill="#35A8E0" stroke="#35A8E0" stroke-width="2.0" stroke-linejoin="round" points="125.1,1635.4 132.8,1633.5 139.2,1635.4 143.1,1639.2 148.2,1641.8 153.3,1645.6 154.6,1649.5 149.5,1648.2 143.1,1644.4 140.5,1646.9 137.9,1650.8 134.1,1648.2 131.5,1643.1 127.7,1639.2"/>
<polygon fill="#35A8E0" stroke="#35A8E0" stroke-width="2.0" stroke-linejoin="round" points="131.5,1658.5 137.9,1654.6 145.6,1653.3 150.8,1655.9 154.6,1659.7 153.3,1662.3 148.2,1661.0 143.1,1662.3 137.9,1663.6 132.8,1663.6"/>
<polygon fill="#35A8E0" stroke="#35A8E0" stroke-width="2.0" stroke-linejoin="round" points="166.2,1652.1 171.3,1649.5 177.7,1649.5 180.3,1654.6 173.8,1655.9 170.6,1661.0 171.3,1667.4 167.4,1668.7 164.9,1663.6 162.3,1658.5 164.9,1655.9"/>
<polygon fill="#35A8E0" stroke="#35A8E0" stroke-width="2.0" stroke-linejoin="round" points="144.4,1671.3 152.1,1670.6 155.9,1671.3 153.3,1673.8 149.5,1675.1 148.2,1677.7 146.3,1675.1"/>
<polygon fill="#35A8E0" stroke="#35A8E0" stroke-width="2.0" stroke-linejoin="round" points="155.9,1677.7 161.0,1675.8 164.9,1673.8 165.5,1677.1 161.7,1679.6 158.5,1680.9"/>
<polygon fill="#35A8E0" stroke="#35A8E0" stroke-width="2.0" stroke-linejoin="round" points="164.9,1680.3 168.7,1679.0 170.6,1681.5 167.4,1683.5"/>
<polygon fill="#35A8E0" stroke="#35A8E0" stroke-width="2.0" stroke-linejoin="round" points="177.7,1675.1 185.4,1673.8 191.8,1676.4 199.5,1679.0 208.5,1677.7 212.3,1680.3 211.7,1684.1 205.9,1684.7 199.5,1682.8 191.8,1682.2 185.4,1681.5 179.0,1680.3"/>
<polygon fill="#35A8E0" stroke="#35A8E0" stroke-width="2.0" stroke-linejoin="round" points="179.0,1682.8 185.4,1684.1 190.5,1685.4 191.8,1691.8 194.4,1698.2 195.6,1702.1 191.8,1699.5 187.9,1696.9 185.4,1691.8 182.8,1687.9"/>
<polygon fill="#35A8E0" stroke="#35A8E0" stroke-width="2.0" stroke-linejoin="round" points="193.1,1684.1 199.5,1685.4 204.6,1687.9 211.0,1689.2 216.2,1689.9 212.3,1691.8 209.7,1693.1 213.6,1695.6 218.7,1698.2 219.4,1703.3 220.0,1708.5 217.4,1708.5 214.2,1703.3 209.7,1699.5 205.9,1695.6 202.1,1691.8 196.9,1689.2"/>
<polygon fill="#35A8E0" stroke="#35A8E0" stroke-width="2.0" stroke-linejoin="round" points="214.9,1675.1 222.6,1675.8 230.3,1677.7 237.9,1679.0 240.5,1684.1 243.1,1686.7 240.5,1689.2 235.4,1689.9 230.3,1690.5 225.1,1688.6 220.0,1686.7 218.1,1681.5"/>
<polygon fill="#35A8E0" stroke="#35A8E0" stroke-width="2.0" stroke-linejoin="round" points="243.7,1681.5 247.6,1682.2 248.2,1686.7 245.0,1686.7"/>
<polygon fill="#35A8E0" stroke="#35A8E0" stroke-width="2.0" stroke-linejoin="round" points="231.5,1692.8 237.9,1693.1 237.7,1694.6 231.8,1694.6"/>
<polygon fill="#35A8E0" stroke="#35A8E0" stroke-width="2.0" stroke-linejoin="round" points="250.8,1691.8 254.6,1691.5 252.7,1694.6 250.5,1694.6"/>
<polygon fill="#35A8E0" stroke="#35A8E0" stroke-width="2.0" stroke-linejoin="round" points="226.4,1700.8 228.3,1701.0 229.9,1707.2 227.7,1706.5"/>
<polygon fill="#35A8E0" stroke="#35A8E0" stroke-width="2.0" stroke-linejoin="round" points="231.5,1708.5 234.4,1708.2 234.9,1712.3 232.2,1712.1"/>
<polygon fill="#35A8E0" stroke="#35A8E0" stroke-width="2.0" stroke-linejoin="round" points="203.3,1700.1 206.5,1699.9 206.2,1702.7 203.6,1702.7"/>
<polygon fill="#35A8E0" stroke="#35A8E0" stroke-width="2.0" stroke-linejoin="round" points="186.7,1705.3 189.2,1705.0 189.2,1706.7 186.7,1706.8"/>
<polygon fill="#35A8E0" stroke="#35A8E0" stroke-width="2.0" stroke-linejoin="round" points="242.4,1693.7 245.0,1693.5 245.0,1695.1 242.4,1695.1"/>
<polygon fill="#35A8E0" stroke="#35A8E0" stroke-width="2.0" stroke-linejoin="round" points="98.2,1637.3 102.1,1637.9 104.6,1641.2 102.1,1642.1 98.8,1639.9"/>
<polygon fill="#35A8E0" stroke="#35A8E0" stroke-width="2.0" stroke-linejoin="round" points="108.5,1654.6 111.0,1654.6 111.0,1657.2 108.5,1657.2"/>
<polygon fill="#35A8E0" stroke="#35A8E0" stroke-width="2.0" stroke-linejoin="round" points="90.5,1625.1 93.7,1625.4 93.7,1627.2 90.8,1627.1"/>
<polygon fill="#35A8E0" stroke="#35A8E0" stroke-width="2.0" stroke-linejoin="round" points="79.6,1611.0 83.5,1611.0 83.5,1612.6 79.6,1612.6"/>
<polygon fill="#35A8E0" stroke="#35A8E0" stroke-width="2.0" stroke-linejoin="round" points="116.2,1644.4 120.0,1645.0 121.3,1648.2 118.1,1648.8"/>
<polygon fill="#35A8E0" stroke="#35A8E0" stroke-width="2.0" stroke-linejoin="round" points="122.6,1649.5 126.4,1650.1 127.1,1653.3 123.2,1653.3"/>
<polygon fill="#35A8E0" stroke="#35A8E0" stroke-width="2.0" stroke-linejoin="round" points="136.0,1664.9 138.6,1664.9 138.6,1666.8 136.0,1666.8"/>
<polygon fill="#35A8E0" stroke="#35A8E0" stroke-width="2.0" stroke-linejoin="round" points="175.1,1689.2 179.0,1689.5 179.0,1692.4 175.4,1692.2"/>
<polygon fill="#35A8E0" stroke="#35A8E0" stroke-width="2.0" stroke-linejoin="round" points="154.6,1649.5 158.5,1652.1 161.0,1655.9 159.7,1659.7 155.9,1655.9"/>
<polygon fill="#35A8E0" stroke="#35A8E0" stroke-width="2.0" stroke-linejoin="round" points="161.0,1657.2 166.2,1655.9 167.4,1661.0 164.9,1664.9 161.7,1662.3"/>
<polygon fill="#35A8E0" stroke="#35A8E0" stroke-width="2.0" stroke-linejoin="round" points="158.5,1635.4 163.6,1637.9 167.4,1641.8 170.0,1645.6 166.2,1646.9 161.0,1643.1"/>
<polygon fill="#35A8E0" stroke="#35A8E0" stroke-width="2.0" stroke-linejoin="round" points="143.1,1645.6 146.9,1646.9 146.3,1650.8 143.1,1650.1"/>
<polygon fill="#35A8E0" stroke="#35A8E0" stroke-width="2.0" stroke-linejoin="round" points="164.9,1669.4 169.4,1670.0 168.7,1673.8 164.9,1673.2"/>
<polygon fill="#35A8E0" stroke="#35A8E0" stroke-width="2.0" stroke-linejoin="round" points="156.5,1664.9 160.4,1664.6 160.8,1667.4 156.9,1667.7"/>
</g>
<rect x="979.5" y="8.3" width="214.8" height="40.7" fill="#D0C7E0"/>
<text x="1007.3" y="42.4" font-size="30.4" fill="#000" textLength="163.2" lengthAdjust="spacingAndGlyphs">Previo 2018</text>
<rect x="1206.9" y="8.3" width="236.9" height="40.7" fill="#B3A2C7"/>
<text x="1253.0" y="42.4" font-size="30.4" fill="#000" textLength="145.5" lengthAdjust="spacingAndGlyphs">2018-2021</text>
<rect x="1456.2" y="8.3" width="242.8" height="40.7" fill="#9900CC"/>
<text x="1505.9" y="42.4" font-size="30.4" fill="#fff" textLength="143.5" lengthAdjust="spacingAndGlyphs" class="b">Existentes</text>
<rect x="1711.4" y="8.3" width="241.6" height="40.7" fill="#9BBB59"/>
<text x="1747.3" y="42.4" font-size="30.4" fill="#000" textLength="170.4" lengthAdjust="spacingAndGlyphs">En Ejecución</text>
<rect x="1965.5" y="8.3" width="271.0" height="40.7" fill="#0070C0"/>
<text x="1993.0" y="42.4" font-size="30.4" fill="#000" textLength="211.8" lengthAdjust="spacingAndGlyphs">En Planificación</text>
<g>
<polygon fill="#FFFF00" points="496,76.3 964.7,76.3 997.4,109.4 964.7,142.6 496,142.6"/>
<circle cx="492.1" cy="109.8" r="37.8" fill="#fff"/>
<circle cx="492.1" cy="109.8" r="28.2" fill="#FFFF00"/>
<polygon fill="#000" points="480.7,93.9 495.3,93.9 510.9,109.3 495.6,124.7 480.7,124.7 495.6,109.3"/>
<polygon fill="#E6E6E6" points="981.2,76.1 1191.2,76.1 1223.3,108.1 1191.2,140.2 981.2,140.2 1012.5,108.1"/>
<polygon fill="#E6E6E6" points="1209.7,76.1 1450,76.1 1482.9,109.3 1450,142.6 1209.7,142.6 1242.4,109.3"/>
<polygon fill="#E6E6E6" points="1466.4,76.1 1706.6,76.1 1739.9,109.3 1706.6,142.6 1466.4,142.6 1499,109.3"/>
<polygon fill="#E6E6E6" points="1721.9,76.1 1973.3,76.1 2006.2,109.3 1973.3,142.6 1721.9,142.6 1754.8,109.3"/>
<polygon fill="#ADEBFF" points="1993.9,75.7 2243.5,75.7 2243.5,142.4 1993.9,142.4 2025.5,109.1"/>
<text class="b" x="532.4" y="128.8" font-size="38" fill="#000" textLength="377.3" lengthAdjust="spacingAndGlyphs">ARICA Y PARINACOTA</text>
<text transform="translate(1171.5,127.6) scale(0.985,1)" font-size="38.6" text-anchor="end" fill="#000">13,76</text>
<text transform="translate(1436.8,127.6) scale(0.985,1)" font-size="38.6" text-anchor="end" fill="#000">18,77</text>
<text transform="translate(1686.1,127.6) scale(0.985,1)" font-size="38.6" text-anchor="end" fill="#000">32,53</text>
<text transform="translate(1947.8,127.6) scale(0.985,1)" font-size="38.6" text-anchor="end" fill="#000">0,00</text>
<text transform="translate(2219.3,127.6) scale(0.985,1)" font-size="38.6" text-anchor="end" fill="#000">60,30</text>
</g>
<g>
<polygon fill="#FFC000" points="496,171.5 964.7,171.5 997.4,204.7 964.7,237.8 496,237.8"/>
<circle cx="492.1" cy="205.0" r="37.8" fill="#fff"/>
<circle cx="492.1" cy="205.0" r="28.2" fill="#FFC000"/>
<polygon fill="#000" points="480.7,189.1 495.3,189.1 510.9,204.5 495.6,219.9 480.7,219.9 495.6,204.5"/>
<polygon fill="#E6E6E6" points="981.2,171.3 1191.2,171.3 1223.3,203.3 1191.2,235.4 981.2,235.4 1012.5,203.3"/>
<polygon fill="#E6E6E6" points="1209.7,171.3 1450,171.3 1482.9,204.5 1450,237.8 1209.7,237.8 1242.4,204.5"/>
<polygon fill="#E6E6E6" points="1466.4,171.3 1706.6,171.3 1739.9,204.5 1706.6,237.8 1466.4,237.8 1499,204.5"/>
<polygon fill="#E6E6E6" points="1721.9,171.3 1973.3,171.3 2006.2,204.5 1973.3,237.8 1721.9,237.8 1754.8,204.5"/>
<polygon fill="#ADEBFF" points="1993.9,170.9 2243.5,170.9 2243.5,237.6 1993.9,237.6 2025.5,204.2"/>
<text class="b" x="532.4" y="223.3" font-size="38" fill="#000" textLength="189.7" lengthAdjust="spacingAndGlyphs">TARAPACÁ</text>
<text transform="translate(1171.5,222.1) scale(0.985,1)" font-size="38.6" text-anchor="end" fill="#000">11,78</text>
<text transform="translate(1436.8,222.1) scale(0.985,1)" font-size="38.6" text-anchor="end" fill="#000">6,30</text>
<text transform="translate(1686.1,222.1) scale(0.985,1)" font-size="38.6" text-anchor="end" fill="#000">18,08</text>
<text transform="translate(1947.8,222.1) scale(0.985,1)" font-size="38.6" text-anchor="end" fill="#000">0,00</text>
<text transform="translate(2219.3,222.1) scale(0.985,1)" font-size="38.6" text-anchor="end" fill="#000">59,36</text>
</g>
<g>
<polygon fill="#F79646" points="496,267 964.7,267 997.4,299.9 964.7,332.7 496,332.7"/>
<circle cx="492.1" cy="300.5" r="37.8" fill="#fff"/>
<circle cx="492.1" cy="300.5" r="28.2" fill="#F79646"/>
<polygon fill="#000" points="480.7,284.6 495.3,284.6 510.9,300.0 495.6,315.4 480.7,315.4 495.6,300.0"/>
<polygon fill="#E6E6E6" points="981.2,266.7 1191.2,266.7 1223.3,298.8 1191.2,330.8 981.2,330.8 1012.5,298.8"/>
<polygon fill="#E6E6E6" points="1209.7,266.7 1450,266.7 1482.9,299.7 1450,332.6 1209.7,332.6 1242.4,299.7"/>
<polygon fill="#E6E6E6" points="1466.4,266.7 1706.6,266.7 1739.9,299.7 1706.6,332.6 1466.4,332.6 1499,299.7"/>
<polygon fill="#E6E6E6" points="1721.9,266.7 1973.3,266.7 2006.2,299.7 1973.3,332.6 1721.9,332.6 1754.8,299.7"/>
<polygon fill="#ADEBFF" points="1993.9,266.4 2243.5,266.4 2243.5,332.5 1993.9,332.5 2025.5,299.4"/>
<text class="b" x="532.4" y="317.5" font-size="38" fill="#000" textLength="262.7" lengthAdjust="spacingAndGlyphs">ANTOFAGASTA</text>
<text transform="translate(1171.5,316.6) scale(0.985,1)" font-size="38.6" text-anchor="end" fill="#000">44,77</text>
<text transform="translate(1436.8,316.6) scale(0.985,1)" font-size="38.6" text-anchor="end" fill="#000">0,00</text>
<text transform="translate(1686.1,316.6) scale(0.985,1)" font-size="38.6" text-anchor="end" fill="#000">44,77</text>
<text transform="translate(1947.8,316.6) scale(0.985,1)" font-size="38.6" text-anchor="end" fill="#000">10,15</text>
<text transform="translate(2219.3,316.6) scale(0.985,1)" font-size="38.6" text-anchor="end" fill="#000">26,12</text>
</g>
<g>
<polygon fill="#E15B05" points="496,362.1 964.7,362.1 997.4,395.0 964.7,427.8 496,427.8"/>
<circle cx="492.1" cy="395.6" r="37.8" fill="#fff"/>
<circle cx="492.1" cy="395.6" r="28.2" fill="#E15B05"/>
<polygon fill="#000" points="480.7,379.7 495.3,379.7 510.9,395.1 495.6,410.5 480.7,410.5 495.6,395.1"/>
<polygon fill="#E6E6E6" points="981.2,361.8 1191.2,361.8 1223.3,393.8 1191.2,425.9 981.2,425.9 1012.5,393.8"/>
<polygon fill="#E6E6E6" points="1209.7,361.8 1450,361.8 1482.9,394.7 1450,427.7 1209.7,427.7 1242.4,394.7"/>
<polygon fill="#E6E6E6" points="1466.4,361.8 1706.6,361.8 1739.9,394.7 1706.6,427.7 1466.4,427.7 1499,394.7"/>
<polygon fill="#E6E6E6" points="1721.9,361.8 1973.3,361.8 2006.2,394.7 1973.3,427.7 1721.9,427.7 1754.8,394.7"/>
<polygon fill="#ADEBFF" points="1993.9,361.5 2243.5,361.5 2243.5,427.6 1993.9,427.6 2025.5,394.6"/>
<text class="b" x="532.4" y="412.8" font-size="38" fill="#000" textLength="180.9" lengthAdjust="spacingAndGlyphs">ATACAMA</text>
<text transform="translate(1171.5,411.2) scale(0.985,1)" font-size="38.6" text-anchor="end" fill="#000">12,95</text>
<text transform="translate(1436.8,411.2) scale(0.985,1)" font-size="38.6" text-anchor="end" fill="#000">25,55</text>
<text transform="translate(1686.1,411.2) scale(0.985,1)" font-size="38.6" text-anchor="end" fill="#000">38,50</text>
<text transform="translate(1947.8,411.2) scale(0.985,1)" font-size="38.6" text-anchor="end" fill="#000">0,00</text>
<text transform="translate(2219.3,411.2) scale(0.985,1)" font-size="38.6" text-anchor="end" fill="#000">15,07</text>
</g>
<g>
<polygon fill="#EA0000" points="496,457.1 964.7,457.1 997.4,490.0 964.7,522.8 496,522.8"/>
<circle cx="492.1" cy="490.6" r="37.8" fill="#fff"/>
<circle cx="492.1" cy="490.6" r="28.2" fill="#EA0000"/>
<polygon fill="#000" points="480.7,474.7 495.3,474.7 510.9,490.1 495.6,505.5 480.7,505.5 495.6,490.1"/>
<polygon fill="#E6E6E6" points="981.2,456.7 1191.2,456.7 1223.3,488.8 1191.2,520.8 981.2,520.8 1012.5,488.8"/>
<polygon fill="#E6E6E6" points="1209.7,456.7 1450,456.7 1482.9,489.7 1450,522.6 1209.7,522.6 1242.4,489.7"/>
<polygon fill="#E6E6E6" points="1466.4,456.7 1706.6,456.7 1739.9,489.7 1706.6,522.6 1466.4,522.6 1499,489.7"/>
<polygon fill="#E6E6E6" points="1721.9,456.7 1973.3,456.7 2006.2,489.7 1973.3,522.6 1721.9,522.6 1754.8,489.7"/>
<polygon fill="#ADEBFF" points="1993.9,456.5 2243.5,456.5 2243.5,522.6 1993.9,522.6 2025.5,489.6"/>
<text class="b" x="532.4" y="507.1" font-size="38" fill="#000" textLength="205.6" lengthAdjust="spacingAndGlyphs">COQUIMBO</text>
<text transform="translate(1171.5,505.7) scale(0.985,1)" font-size="38.6" text-anchor="end" fill="#000">17,74</text>
<text transform="translate(1436.8,505.7) scale(0.985,1)" font-size="38.6" text-anchor="end" fill="#000">36,85</text>
<text transform="translate(1686.1,505.7) scale(0.985,1)" font-size="38.6" text-anchor="end" fill="#000">54,59</text>
<text transform="translate(1947.8,505.7) scale(0.985,1)" font-size="38.6" text-anchor="end" fill="#000">0,00</text>
<text transform="translate(2219.3,505.7) scale(0.985,1)" font-size="38.6" text-anchor="end" fill="#000">93,00</text>
</g>
<g>
<polygon fill="#C00000" points="496,552.2 964.7,552.2 997.4,585.1 964.7,617.9 496,617.9"/>
<circle cx="492.1" cy="585.7" r="37.8" fill="#fff"/>
<circle cx="492.1" cy="585.7" r="28.2" fill="#C00000"/>
<polygon fill="#000" points="480.7,569.8 495.3,569.8 510.9,585.2 495.6,600.6 480.7,600.6 495.6,585.2"/>
<polygon fill="#E6E6E6" points="981.2,551.8 1191.2,551.8 1223.3,583.8 1191.2,615.9 981.2,615.9 1012.5,583.8"/>
<polygon fill="#E6E6E6" points="1209.7,551.8 1450,551.8 1482.9,584.8 1450,617.7 1209.7,617.7 1242.4,584.8"/>
<polygon fill="#E6E6E6" points="1466.4,551.8 1706.6,551.8 1739.9,584.8 1706.6,617.7 1466.4,617.7 1499,584.8"/>
<polygon fill="#E6E6E6" points="1721.9,551.8 1973.3,551.8 2006.2,584.8 1973.3,617.7 1721.9,617.7 1754.8,584.8"/>
<polygon fill="#ADEBFF" points="1993.9,551.6 2243.5,551.6 2243.5,617.7 1993.9,617.7 2025.5,584.7"/>
<text class="b" x="532.4" y="601.8" font-size="38" fill="#000" textLength="222.1" lengthAdjust="spacingAndGlyphs">VALPARAÍSO</text>
<text transform="translate(1171.5,600.2) scale(0.985,1)" font-size="38.6" text-anchor="end" fill="#000">48,70</text>
<text transform="translate(1436.8,600.2) scale(0.985,1)" font-size="38.6" text-anchor="end" fill="#000">95,89</text>
<text transform="translate(1686.1,600.2) scale(0.985,1)" font-size="38.6" text-anchor="end" fill="#000">144,58</text>
<text transform="translate(1947.8,600.2) scale(0.985,1)" font-size="38.6" text-anchor="end" fill="#000">9,25</text>
<text transform="translate(2219.3,600.2) scale(0.985,1)" font-size="38.6" text-anchor="end" fill="#000">167,20</text>
</g>
<g>
<polygon fill="#8E0000" points="496,647 964.7,647 997.4,679.9 964.7,712.7 496,712.7"/>
<circle cx="492.1" cy="680.5" r="37.8" fill="#fff"/>
<circle cx="492.1" cy="680.5" r="28.2" fill="#8E0000"/>
<polygon fill="#000" points="480.7,664.6 495.3,664.6 510.9,680.0 495.6,695.4 480.7,695.4 495.6,680.0"/>
<polygon fill="#E6E6E6" points="981.2,646.6 1191.2,646.6 1223.3,678.6 1191.2,710.7 981.2,710.7 1012.5,678.6"/>
<polygon fill="#E6E6E6" points="1209.7,646.6 1450,646.6 1482.9,679.5 1450,712.5 1209.7,712.5 1242.4,679.5"/>
<polygon fill="#E6E6E6" points="1466.4,646.6 1706.6,646.6 1739.9,679.5 1706.6,712.5 1466.4,712.5 1499,679.5"/>
<polygon fill="#E6E6E6" points="1721.9,646.6 1973.3,646.6 2006.2,679.5 1973.3,712.5 1721.9,712.5 1754.8,679.5"/>
<polygon fill="#ADEBFF" points="1993.9,646.4 2243.5,646.4 2243.5,712.5 1993.9,712.5 2025.5,679.5"/>
<text class="b" x="532.4" y="696.1" font-size="38" fill="#fff" textLength="296.3" lengthAdjust="spacingAndGlyphs">GRAN SANTIAGO</text>
<text transform="translate(1171.5,694.8) scale(0.985,1)" font-size="38.6" text-anchor="end" fill="#000">337,64</text>
<text transform="translate(1436.8,694.8) scale(0.985,1)" font-size="38.6" text-anchor="end" fill="#000">142,72</text>
<text transform="translate(1686.1,694.8) scale(0.985,1)" font-size="38.6" text-anchor="end" fill="#000">480,36</text>
<text transform="translate(1947.8,694.8) scale(0.985,1)" font-size="38.6" text-anchor="end" fill="#000">49,33</text>
<text transform="translate(2219.3,694.8) scale(0.985,1)" font-size="38.6" text-anchor="end" fill="#000">960,31</text>
</g>
<g>
<polygon fill="#8E0000" points="496,737.1 964.7,737.1 997.4,770.0 964.7,802.8 496,802.8"/>
<circle cx="492.1" cy="770.6" r="37.8" fill="#fff"/>
<circle cx="492.1" cy="770.6" r="28.2" fill="#8E0000"/>
<polygon fill="#000" points="480.7,754.7 495.3,754.7 510.9,770.1 495.6,785.5 480.7,785.5 495.6,770.1"/>
<polygon fill="#E6E6E6" points="981.2,736.6 1191.2,736.6 1223.3,768.7 1191.2,800.7 981.2,800.7 1012.5,768.7"/>
<polygon fill="#E6E6E6" points="1209.7,736.6 1450,736.6 1482.9,769.6 1450,802.5 1209.7,802.5 1242.4,769.6"/>
<polygon fill="#E6E6E6" points="1466.4,736.6 1706.6,736.6 1739.9,769.6 1706.6,802.5 1466.4,802.5 1499,769.6"/>
<polygon fill="#E6E6E6" points="1721.9,736.6 1973.3,736.6 2006.2,769.6 1973.3,802.5 1721.9,802.5 1754.8,769.6"/>
<polygon fill="#ADEBFF" points="1993.9,736.5 2243.5,736.5 2243.5,802.6 1993.9,802.6 2025.5,769.5"/>
<text class="b" x="532.4" y="790.9" font-size="38" fill="#fff" textLength="392.9" lengthAdjust="spacingAndGlyphs">METROPOLITANA, FGS</text>
<text transform="translate(1171.5,789.3) scale(0.985,1)" font-size="38.6" text-anchor="end" fill="#000">159,71</text>
<text transform="translate(1436.8,789.3) scale(0.985,1)" font-size="38.6" text-anchor="end" fill="#000">134,37</text>
<text transform="translate(1686.1,789.3) scale(0.985,1)" font-size="38.6" text-anchor="end" fill="#000">294,08</text>
<text transform="translate(1947.8,789.3) scale(0.985,1)" font-size="38.6" text-anchor="end" fill="#000">5,47</text>
<text transform="translate(2219.3,789.3) scale(0.985,1)" font-size="38.6" text-anchor="end" fill="#000">15,13</text>
</g>
<g>
<polygon fill="#AAEB33" points="496,834.7 964.7,834.7 997.4,867.6 964.7,900.4 496,900.4"/>
<circle cx="492.1" cy="868.2" r="37.8" fill="#fff"/>
<circle cx="492.1" cy="868.2" r="28.2" fill="#AAEB33"/>
<polygon fill="#000" points="480.7,852.3 495.3,852.3 510.9,867.7 495.6,883.1 480.7,883.1 495.6,867.7"/>
<polygon fill="#E6E6E6" points="981.2,834.2 1191.2,834.2 1223.3,866.2 1191.2,898.3 981.2,898.3 1012.5,866.2"/>
<polygon fill="#E6E6E6" points="1209.7,834.2 1450,834.2 1482.9,867.1 1450,900.1 1209.7,900.1 1242.4,867.1"/>
<polygon fill="#E6E6E6" points="1466.4,834.2 1706.6,834.2 1739.9,867.1 1706.6,900.1 1466.4,900.1 1499,867.1"/>
<polygon fill="#E6E6E6" points="1721.9,834.2 1973.3,834.2 2006.2,867.1 1973.3,900.1 1721.9,900.1 1754.8,867.1"/>
<polygon fill="#ADEBFF" points="1993.9,834.1 2243.5,834.1 2243.5,900.2 1993.9,900.2 2025.5,867.2"/>
<text class="b" x="532.4" y="884.3" font-size="38" fill="#000" textLength="186.9" lengthAdjust="spacingAndGlyphs">O'HIGGINS</text>
<text transform="translate(1171.5,883.8) scale(0.985,1)" font-size="38.6" text-anchor="end" fill="#000">184,72</text>
<text transform="translate(1436.8,883.8) scale(0.985,1)" font-size="38.6" text-anchor="end" fill="#000">14,43</text>
<text transform="translate(1686.1,883.8) scale(0.985,1)" font-size="38.6" text-anchor="end" fill="#000">199,15</text>
<text transform="translate(1947.8,883.8) scale(0.985,1)" font-size="38.6" text-anchor="end" fill="#000">0,00</text>
<text transform="translate(2219.3,883.8) scale(0.985,1)" font-size="38.6" text-anchor="end" fill="#000">93,78</text>
</g>
<g>
<polygon fill="#92D050" points="496,929.5 964.7,929.5 997.4,962.4 964.7,995.2 496,995.2"/>
<circle cx="492.1" cy="963.0" r="37.8" fill="#fff"/>
<circle cx="492.1" cy="963.0" r="28.2" fill="#92D050"/>
<polygon fill="#000" points="480.7,947.1 495.3,947.1 510.9,962.5 495.6,977.9 480.7,977.9 495.6,962.5"/>
<polygon fill="#E6E6E6" points="981.2,928.9 1191.2,928.9 1223.3,961.0 1191.2,993.0 981.2,993.0 1012.5,961.0"/>
<polygon fill="#E6E6E6" points="1209.7,928.9 1450,928.9 1482.9,961.9 1450,994.8 1209.7,994.8 1242.4,961.9"/>
<polygon fill="#E6E6E6" points="1466.4,928.9 1706.6,928.9 1739.9,961.9 1706.6,994.8 1466.4,994.8 1499,961.9"/>
<polygon fill="#E6E6E6" points="1721.9,928.9 1973.3,928.9 2006.2,961.9 1973.3,994.8 1721.9,994.8 1754.8,961.9"/>
<polygon fill="#ADEBFF" points="1993.9,928.9 2243.5,928.9 2243.5,995.0 1993.9,995.0 2025.5,962.0"/>
<text class="b" x="532.4" y="979.7" font-size="38" fill="#000" textLength="127.3" lengthAdjust="spacingAndGlyphs">MAULE</text>
<text transform="translate(1171.5,978.3) scale(0.985,1)" font-size="38.6" text-anchor="end" fill="#000">105,68</text>
<text transform="translate(1436.8,978.3) scale(0.985,1)" font-size="38.6" text-anchor="end" fill="#000">29,35</text>
<text transform="translate(1686.1,978.3) scale(0.985,1)" font-size="38.6" text-anchor="end" fill="#000">135,03</text>
<text transform="translate(1947.8,978.3) scale(0.985,1)" font-size="38.6" text-anchor="end" fill="#000">21,19</text>
<text transform="translate(2219.3,978.3) scale(0.985,1)" font-size="38.6" text-anchor="end" fill="#000">52,01</text>
</g>
<g>
<polygon fill="#19BF19" points="496,1024.6 964.7,1024.6 997.4,1057.4 964.7,1090.3 496,1090.3"/>
<circle cx="492.1" cy="1058.1" r="37.8" fill="#fff"/>
<circle cx="492.1" cy="1058.1" r="28.2" fill="#00B050"/>
<polygon fill="#000" points="480.7,1042.2 495.3,1042.2 510.9,1057.6 495.6,1073.0 480.7,1073.0 495.6,1057.6"/>
<polygon fill="#E6E6E6" points="981.2,1024.0 1191.2,1024.0 1223.3,1056.0 1191.2,1088.1 981.2,1088.1 1012.5,1056.0"/>
<polygon fill="#E6E6E6" points="1209.7,1024.0 1450,1024.0 1482.9,1056.9 1450,1089.9 1209.7,1089.9 1242.4,1056.9"/>
<polygon fill="#E6E6E6" points="1466.4,1024.0 1706.6,1024.0 1739.9,1056.9 1706.6,1089.9 1466.4,1089.9 1499,1056.9"/>
<polygon fill="#E6E6E6" points="1721.9,1024.0 1973.3,1024.0 2006.2,1056.9 1973.3,1089.9 1721.9,1089.9 1754.8,1056.9"/>
<polygon fill="#ADEBFF" points="1993.9,1024.0 2243.5,1024.0 2243.5,1090.1 1993.9,1090.1 2025.5,1057.0"/>
<text class="b" x="532.4" y="1073.9" font-size="38" fill="#000" textLength="115.5" lengthAdjust="spacingAndGlyphs">ÑUBLE</text>
<text transform="translate(1171.5,1072.8) scale(0.985,1)" font-size="38.6" text-anchor="end" fill="#000">21,72</text>
<text transform="translate(1436.8,1072.8) scale(0.985,1)" font-size="38.6" text-anchor="end" fill="#000">9,65</text>
<text transform="translate(1686.1,1072.8) scale(0.985,1)" font-size="38.6" text-anchor="end" fill="#000">31,37</text>
<text transform="translate(1947.8,1072.8) scale(0.985,1)" font-size="38.6" text-anchor="end" fill="#000">0,00</text>
<text transform="translate(2219.3,1072.8) scale(0.985,1)" font-size="38.6" text-anchor="end" fill="#000">73,06</text>
</g>
<g>
<polygon fill="#339257" points="496,1119.9 964.7,1119.9 997.4,1152.8 964.7,1185.6 496,1185.6"/>
<circle cx="492.1" cy="1153.4" r="37.8" fill="#fff"/>
<circle cx="492.1" cy="1153.4" r="28.2" fill="#339257"/>
<polygon fill="#000" points="480.7,1137.5 495.3,1137.5 510.9,1152.9 495.6,1168.3 480.7,1168.3 495.6,1152.9"/>
<polygon fill="#E6E6E6" points="981.2,1119.3 1191.2,1119.3 1223.3,1151.3 1191.2,1183.4 981.2,1183.4 1012.5,1151.3"/>
<polygon fill="#E6E6E6" points="1209.7,1119.3 1450,1119.3 1482.9,1152.2 1450,1185.2 1209.7,1185.2 1242.4,1152.2"/>
<polygon fill="#E6E6E6" points="1466.4,1119.3 1706.6,1119.3 1739.9,1152.2 1706.6,1185.2 1466.4,1185.2 1499,1152.2"/>
<polygon fill="#E6E6E6" points="1721.9,1119.3 1973.3,1119.3 2006.2,1152.2 1973.3,1185.2 1721.9,1185.2 1754.8,1152.2"/>
<polygon fill="#ADEBFF" points="1993.9,1119.3 2243.5,1119.3 2243.5,1185.4 1993.9,1185.4 2025.5,1152.4"/>
<text class="b" x="532.4" y="1169.0" font-size="38" fill="#000" textLength="126.5" lengthAdjust="spacingAndGlyphs">BIOBÍO</text>
<text transform="translate(1171.5,1167.4) scale(0.985,1)" font-size="38.6" text-anchor="end" fill="#000">120,76</text>
<text transform="translate(1436.8,1167.4) scale(0.985,1)" font-size="38.6" text-anchor="end" fill="#000">63,36</text>
<text transform="translate(1686.1,1167.4) scale(0.985,1)" font-size="38.6" text-anchor="end" fill="#000">184,12</text>
<text transform="translate(1947.8,1167.4) scale(0.985,1)" font-size="38.6" text-anchor="end" fill="#000">0,25</text>
<text transform="translate(2219.3,1167.4) scale(0.985,1)" font-size="38.6" text-anchor="end" fill="#000">133,49</text>
</g>
<g>
<polygon fill="#22693B" points="496,1215 964.7,1215 997.4,1247.8 964.7,1280.7 496,1280.7"/>
<circle cx="492.1" cy="1248.5" r="37.8" fill="#fff"/>
<circle cx="492.1" cy="1248.5" r="28.2" fill="#22693B"/>
<polygon fill="#000" points="480.7,1232.6 495.3,1232.6 510.9,1248.0 495.6,1263.4 480.7,1263.4 495.6,1248.0"/>
<polygon fill="#E6E6E6" points="981.2,1214.3 1191.2,1214.3 1223.3,1246.4 1191.2,1278.4 981.2,1278.4 1012.5,1246.4"/>
<polygon fill="#E6E6E6" points="1209.7,1214.3 1450,1214.3 1482.9,1247.3 1450,1280.2 1209.7,1280.2 1242.4,1247.3"/>
<polygon fill="#E6E6E6" points="1466.4,1214.3 1706.6,1214.3 1739.9,1247.3 1706.6,1280.2 1466.4,1280.2 1499,1247.3"/>
<polygon fill="#E6E6E6" points="1721.9,1214.3 1973.3,1214.3 2006.2,1247.3 1973.3,1280.2 1721.9,1280.2 1754.8,1247.3"/>
<polygon fill="#ADEBFF" points="1993.9,1214.4 2243.5,1214.4 2243.5,1280.5 1993.9,1280.5 2025.5,1247.5"/>
<text class="b" x="532.4" y="1263.5" font-size="38" fill="#000" textLength="212.5" lengthAdjust="spacingAndGlyphs">ARAUCANÍA</text>
<text transform="translate(1171.5,1261.9) scale(0.985,1)" font-size="38.6" text-anchor="end" fill="#000">118,92</text>
<text transform="translate(1436.8,1261.9) scale(0.985,1)" font-size="38.6" text-anchor="end" fill="#000">18,71</text>
<text transform="translate(1686.1,1261.9) scale(0.985,1)" font-size="38.6" text-anchor="end" fill="#000">137,63</text>
<text transform="translate(1947.8,1261.9) scale(0.985,1)" font-size="38.6" text-anchor="end" fill="#000">3,83</text>
<text transform="translate(2219.3,1261.9) scale(0.985,1)" font-size="38.6" text-anchor="end" fill="#000">22,84</text>
</g>
<g>
<polygon fill="#005453" points="496,1310 964.7,1310 997.4,1342.8 964.7,1375.7 496,1375.7"/>
<circle cx="492.1" cy="1343.5" r="37.8" fill="#fff"/>
<circle cx="492.1" cy="1343.5" r="28.2" fill="#005453"/>
<polygon fill="#000" points="480.7,1327.6 495.3,1327.6 510.9,1343.0 495.6,1358.4 480.7,1358.4 495.6,1343.0"/>
<polygon fill="#E6E6E6" points="981.2,1309.3 1191.2,1309.3 1223.3,1341.3 1191.2,1373.4 981.2,1373.4 1012.5,1341.3"/>
<polygon fill="#E6E6E6" points="1209.7,1309.3 1450,1309.3 1482.9,1342.2 1450,1375.2 1209.7,1375.2 1242.4,1342.2"/>
<polygon fill="#E6E6E6" points="1466.4,1309.3 1706.6,1309.3 1739.9,1342.2 1706.6,1375.2 1466.4,1375.2 1499,1342.2"/>
<polygon fill="#E6E6E6" points="1721.9,1309.3 1973.3,1309.3 2006.2,1342.2 1973.3,1375.2 1721.9,1375.2 1754.8,1342.2"/>
<polygon fill="#ADEBFF" points="1993.9,1309.4 2243.5,1309.4 2243.5,1375.5 1993.9,1375.5 2025.5,1342.5"/>
<text class="b" x="532.4" y="1358.3" font-size="38" fill="#000" textLength="157.5" lengthAdjust="spacingAndGlyphs">LOS RÍOS</text>
<text transform="translate(1171.5,1356.4) scale(0.985,1)" font-size="38.6" text-anchor="end" fill="#000">48,68</text>
<text transform="translate(1436.8,1356.4) scale(0.985,1)" font-size="38.6" text-anchor="end" fill="#000">0,00</text>
<text transform="translate(1686.1,1356.4) scale(0.985,1)" font-size="38.6" text-anchor="end" fill="#000">48,68</text>
<text transform="translate(1947.8,1356.4) scale(0.985,1)" font-size="38.6" text-anchor="end" fill="#000">6,76</text>
<text transform="translate(2219.3,1356.4) scale(0.985,1)" font-size="38.6" text-anchor="end" fill="#000">0</text>
</g>
<g>
<polygon fill="#263F61" points="496,1405.3 964.7,1405.3 997.4,1438.2 964.7,1471.0 496,1471.0"/>
<circle cx="492.1" cy="1438.8" r="37.8" fill="#fff"/>
<circle cx="492.1" cy="1438.8" r="28.2" fill="#263F61"/>
<polygon fill="#000" points="480.7,1422.9 495.3,1422.9 510.9,1438.3 495.6,1453.7 480.7,1453.7 495.6,1438.3"/>
<polygon fill="#E6E6E6" points="981.2,1404.5 1191.2,1404.5 1223.3,1436.6 1191.2,1468.6 981.2,1468.6 1012.5,1436.6"/>
<polygon fill="#E6E6E6" points="1209.7,1404.5 1450,1404.5 1482.9,1437.5 1450,1470.4 1209.7,1470.4 1242.4,1437.5"/>
<polygon fill="#E6E6E6" points="1466.4,1404.5 1706.6,1404.5 1739.9,1437.5 1706.6,1470.4 1466.4,1470.4 1499,1437.5"/>
<polygon fill="#E6E6E6" points="1721.9,1404.5 1973.3,1404.5 2006.2,1437.5 1973.3,1470.4 1721.9,1470.4 1754.8,1437.5"/>
<polygon fill="#ADEBFF" points="1993.9,1404.7 2243.5,1404.7 2243.5,1470.8 1993.9,1470.8 2025.5,1437.8"/>
<text class="b" x="532.4" y="1452.2" font-size="38" fill="#000" textLength="193.2" lengthAdjust="spacingAndGlyphs">LOS LAGOS</text>
<text transform="translate(1171.5,1451.0) scale(0.985,1)" font-size="38.6" text-anchor="end" fill="#000">146,83</text>
<text transform="translate(1436.8,1451.0) scale(0.985,1)" font-size="38.6" text-anchor="end" fill="#000">14,14</text>
<text transform="translate(1686.1,1451.0) scale(0.985,1)" font-size="38.6" text-anchor="end" fill="#000">160,97</text>
<text transform="translate(1947.8,1451.0) scale(0.985,1)" font-size="38.6" text-anchor="end" fill="#000">4,50</text>
<text transform="translate(2219.3,1451.0) scale(0.985,1)" font-size="38.6" text-anchor="end" fill="#000">0</text>
</g>
<g>
<polygon fill="#1559C9" points="496,1500.3 964.7,1500.3 997.4,1533.2 964.7,1566.0 496,1566.0"/>
<circle cx="492.1" cy="1533.8" r="37.8" fill="#fff"/>
<circle cx="492.1" cy="1533.8" r="28.2" fill="#1559C9"/>
<polygon fill="#000" points="480.7,1517.9 495.3,1517.9 510.9,1533.3 495.6,1548.7 480.7,1548.7 495.6,1533.3"/>
<polygon fill="#E6E6E6" points="981.2,1499.5 1191.2,1499.5 1223.3,1531.6 1191.2,1563.6 981.2,1563.6 1012.5,1531.6"/>
<polygon fill="#E6E6E6" points="1209.7,1499.5 1450,1499.5 1482.9,1532.5 1450,1565.4 1209.7,1565.4 1242.4,1532.5"/>
<polygon fill="#E6E6E6" points="1466.4,1499.5 1706.6,1499.5 1739.9,1532.5 1706.6,1565.4 1466.4,1565.4 1499,1532.5"/>
<polygon fill="#E6E6E6" points="1721.9,1499.5 1973.3,1499.5 2006.2,1532.5 1973.3,1565.4 1721.9,1565.4 1754.8,1532.5"/>
<polygon fill="#ADEBFF" points="1993.9,1499.7 2243.5,1499.7 2243.5,1565.8 1993.9,1565.8 2025.5,1532.8"/>
<text class="b" x="532.4" y="1547.0" font-size="38" fill="#000" textLength="113.6" lengthAdjust="spacingAndGlyphs">AYSÉN</text>
<text transform="translate(1171.5,1545.5) scale(0.985,1)" font-size="38.6" text-anchor="end" fill="#000">0,00</text>
<text transform="translate(1436.8,1545.5) scale(0.985,1)" font-size="38.6" text-anchor="end" fill="#000">9,96</text>
<text transform="translate(1686.1,1545.5) scale(0.985,1)" font-size="38.6" text-anchor="end" fill="#000">9,96</text>
<text transform="translate(1947.8,1545.5) scale(0.985,1)" font-size="38.6" text-anchor="end" fill="#000">0,00</text>
<text transform="translate(2219.3,1545.5) scale(0.985,1)" font-size="38.6" text-anchor="end" fill="#000">12,09</text>
</g>
<g>
<polygon fill="#00B0F0" points="496,1595.1 964.7,1595.1 997.4,1627.9 964.7,1660.8 496,1660.8"/>
<circle cx="492.1" cy="1628.6" r="37.8" fill="#fff"/>
<circle cx="492.1" cy="1628.6" r="28.2" fill="#00B0F0"/>
<polygon fill="#000" points="480.7,1612.7 495.3,1612.7 510.9,1628.1 495.6,1643.5 480.7,1643.5 495.6,1628.1"/>
<polygon fill="#E6E6E6" points="981.2,1594.3 1191.2,1594.3 1223.3,1626.3 1191.2,1658.4 981.2,1658.4 1012.5,1626.3"/>
<polygon fill="#E6E6E6" points="1209.7,1594.3 1450,1594.3 1482.9,1627.2 1450,1660.2 1209.7,1660.2 1242.4,1627.2"/>
<polygon fill="#E6E6E6" points="1466.4,1594.3 1706.6,1594.3 1739.9,1627.2 1706.6,1660.2 1466.4,1660.2 1499,1627.2"/>
<polygon fill="#E6E6E6" points="1721.9,1594.3 1973.3,1594.3 2006.2,1627.2 1973.3,1660.2 1721.9,1660.2 1754.8,1627.2"/>
<polygon fill="#ADEBFF" points="1993.9,1594.5 2243.5,1594.5 2243.5,1660.6 1993.9,1660.6 2025.5,1627.5"/>
<text class="b" x="532.4" y="1641.2" font-size="38" fill="#000" textLength="240.8" lengthAdjust="spacingAndGlyphs">MAGALLANES</text>
<text transform="translate(1171.5,1640.0) scale(0.985,1)" font-size="38.6" text-anchor="end" fill="#000">29,60</text>
<text transform="translate(1436.8,1640.0) scale(0.985,1)" font-size="38.6" text-anchor="end" fill="#000">10,75</text>
<text transform="translate(1686.1,1640.0) scale(0.985,1)" font-size="38.6" text-anchor="end" fill="#000">40,35</text>
<text transform="translate(1947.8,1640.0) scale(0.985,1)" font-size="38.6" text-anchor="end" fill="#000">0,25</text>
<text transform="translate(2219.3,1640.0) scale(0.985,1)" font-size="38.6" text-anchor="end" fill="#000">64,20</text>
</g>
<text class="b" x="532.3" y="1735.6" font-size="36.6" fill="#000" textLength="306.5" lengthAdjust="spacingAndGlyphs">TOTAL NACIONAL</text>
<rect x="980.8" y="1694.7" width="223.9" height="50.8" fill="#000"/>
<polygon fill="#000" points="1073.0,1691.3 1092.6,1667.5 1112.2,1691.3"/>
<text class="b" x="1171.1" y="1733.1" font-size="36.6" text-anchor="end" fill="#fff" textLength="137.2" lengthAdjust="spacingAndGlyphs">1423,95</text>
<rect x="1218.6" y="1694.7" width="247.3" height="50.8" fill="#000"/>
<polygon fill="#000" points="1322.9,1691.3 1342.5,1667.5 1362.1,1691.3"/>
<text class="b" x="1436.4" y="1733.1" font-size="36.6" text-anchor="end" fill="#fff" textLength="115.4" lengthAdjust="spacingAndGlyphs">630,81</text>
<rect x="1475" y="1694.7" width="246.9" height="50.8" fill="#000"/>
<polygon fill="#000" points="1578.4,1691.3 1598.0,1667.5 1617.6,1691.3"/>
<text class="b" x="1686.8" y="1733.1" font-size="36.6" text-anchor="end" fill="#fff" textLength="137.2" lengthAdjust="spacingAndGlyphs">2054,75</text>
<rect x="1730.9" y="1694.7" width="254.8" height="50.8" fill="#000"/>
<polygon fill="#000" points="1838.2,1691.3 1857.8,1667.5 1877.4,1691.3"/>
<text class="b" x="1946.9" y="1733.1" font-size="36.6" text-anchor="end" fill="#fff" textLength="115.4" lengthAdjust="spacingAndGlyphs">110,98</text>
<rect x="1995.1" y="1694.7" width="246.9" height="50.8" fill="#000"/>
<polygon fill="#000" points="2098.6,1691.3 2118.2,1667.5 2137.8,1691.3"/>
<text class="b" x="2219.7" y="1733.1" font-size="36.6" text-anchor="end" fill="#fff" textLength="137.2" lengthAdjust="spacingAndGlyphs">1848,00</text>
</svg></body></html>
